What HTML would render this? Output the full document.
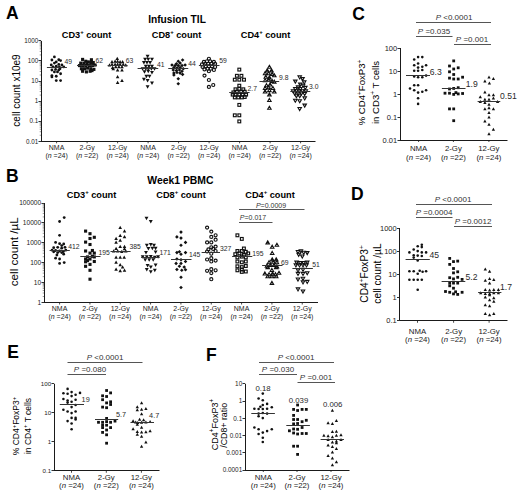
<!DOCTYPE html>
<html><head><meta charset="utf-8"><style>
html,body{margin:0;padding:0;background:#fff;width:520px;height:496px;overflow:hidden}
svg{display:block}
text{font-family:"Liberation Sans", sans-serif}
</style></head><body>
<svg width="520" height="496" viewBox="0 0 520 496">
<rect width="520" height="496" fill="#fff"/>
<text x="6.00" y="18.60" font-size="17.5" text-anchor="start" fill="#000" font-weight="bold">A</text>
<text x="177.00" y="23.00" font-size="10.2" text-anchor="middle" fill="#000" font-weight="bold">Infusion TIL</text>
<text x="86.50" y="37.50" font-size="9.2" text-anchor="middle" fill="#000" font-weight="bold">CD3<tspan font-size="6" dy="-3.5">+</tspan><tspan dy="3.5">​</tspan> count</text>
<text x="176.50" y="37.50" font-size="9.2" text-anchor="middle" fill="#000" font-weight="bold">CD8<tspan font-size="6" dy="-3.5">+</tspan><tspan dy="3.5">​</tspan> count</text>
<text x="265.50" y="37.50" font-size="9.2" text-anchor="middle" fill="#000" font-weight="bold">CD4<tspan font-size="6" dy="-3.5">+</tspan><tspan dy="3.5">​</tspan> count</text>
<text x="17.50" y="90.50" font-size="10" text-anchor="middle" fill="#000" transform="rotate(-90 17.50 90.50)" dominant-baseline="middle">cell count x10e9</text>
<line x1="41.50" y1="40.90" x2="41.50" y2="141.30" stroke="#1a1a1a" stroke-width="1"/>
<line x1="41.00" y1="141.50" x2="315.50" y2="141.50" stroke="#1a1a1a" stroke-width="1"/>
<line x1="38.50" y1="40.50" x2="41.00" y2="40.50" stroke="#1a1a1a" stroke-width="0.9"/>
<text x="38.20" y="43.17" font-size="6.3" text-anchor="end" fill="#222">1000</text>
<line x1="39.70" y1="54.94" x2="41.00" y2="54.94" stroke="#555" stroke-width="0.6"/>
<line x1="39.70" y1="51.40" x2="41.00" y2="51.40" stroke="#555" stroke-width="0.6"/>
<line x1="39.70" y1="48.89" x2="41.00" y2="48.89" stroke="#555" stroke-width="0.6"/>
<line x1="39.70" y1="46.94" x2="41.00" y2="46.94" stroke="#555" stroke-width="0.6"/>
<line x1="39.70" y1="45.35" x2="41.00" y2="45.35" stroke="#555" stroke-width="0.6"/>
<line x1="39.70" y1="44.01" x2="41.00" y2="44.01" stroke="#555" stroke-width="0.6"/>
<line x1="39.70" y1="42.85" x2="41.00" y2="42.85" stroke="#555" stroke-width="0.6"/>
<line x1="39.70" y1="41.82" x2="41.00" y2="41.82" stroke="#555" stroke-width="0.6"/>
<line x1="38.50" y1="60.50" x2="41.00" y2="60.50" stroke="#1a1a1a" stroke-width="0.9"/>
<text x="38.20" y="63.25" font-size="6.3" text-anchor="end" fill="#222">100</text>
<line x1="39.70" y1="75.02" x2="41.00" y2="75.02" stroke="#555" stroke-width="0.6"/>
<line x1="39.70" y1="71.48" x2="41.00" y2="71.48" stroke="#555" stroke-width="0.6"/>
<line x1="39.70" y1="68.97" x2="41.00" y2="68.97" stroke="#555" stroke-width="0.6"/>
<line x1="39.70" y1="67.02" x2="41.00" y2="67.02" stroke="#555" stroke-width="0.6"/>
<line x1="39.70" y1="65.43" x2="41.00" y2="65.43" stroke="#555" stroke-width="0.6"/>
<line x1="39.70" y1="64.09" x2="41.00" y2="64.09" stroke="#555" stroke-width="0.6"/>
<line x1="39.70" y1="62.93" x2="41.00" y2="62.93" stroke="#555" stroke-width="0.6"/>
<line x1="39.70" y1="61.90" x2="41.00" y2="61.90" stroke="#555" stroke-width="0.6"/>
<line x1="38.50" y1="81.50" x2="41.00" y2="81.50" stroke="#1a1a1a" stroke-width="0.9"/>
<text x="38.20" y="83.33" font-size="6.3" text-anchor="end" fill="#222">10</text>
<line x1="39.70" y1="95.10" x2="41.00" y2="95.10" stroke="#555" stroke-width="0.6"/>
<line x1="39.70" y1="91.56" x2="41.00" y2="91.56" stroke="#555" stroke-width="0.6"/>
<line x1="39.70" y1="89.05" x2="41.00" y2="89.05" stroke="#555" stroke-width="0.6"/>
<line x1="39.70" y1="87.10" x2="41.00" y2="87.10" stroke="#555" stroke-width="0.6"/>
<line x1="39.70" y1="85.51" x2="41.00" y2="85.51" stroke="#555" stroke-width="0.6"/>
<line x1="39.70" y1="84.17" x2="41.00" y2="84.17" stroke="#555" stroke-width="0.6"/>
<line x1="39.70" y1="83.01" x2="41.00" y2="83.01" stroke="#555" stroke-width="0.6"/>
<line x1="39.70" y1="81.98" x2="41.00" y2="81.98" stroke="#555" stroke-width="0.6"/>
<line x1="38.50" y1="101.50" x2="41.00" y2="101.50" stroke="#1a1a1a" stroke-width="0.9"/>
<text x="38.20" y="103.41" font-size="6.3" text-anchor="end" fill="#222">1</text>
<line x1="39.70" y1="115.18" x2="41.00" y2="115.18" stroke="#555" stroke-width="0.6"/>
<line x1="39.70" y1="111.64" x2="41.00" y2="111.64" stroke="#555" stroke-width="0.6"/>
<line x1="39.70" y1="109.13" x2="41.00" y2="109.13" stroke="#555" stroke-width="0.6"/>
<line x1="39.70" y1="107.18" x2="41.00" y2="107.18" stroke="#555" stroke-width="0.6"/>
<line x1="39.70" y1="105.59" x2="41.00" y2="105.59" stroke="#555" stroke-width="0.6"/>
<line x1="39.70" y1="104.25" x2="41.00" y2="104.25" stroke="#555" stroke-width="0.6"/>
<line x1="39.70" y1="103.09" x2="41.00" y2="103.09" stroke="#555" stroke-width="0.6"/>
<line x1="39.70" y1="102.06" x2="41.00" y2="102.06" stroke="#555" stroke-width="0.6"/>
<line x1="38.50" y1="121.50" x2="41.00" y2="121.50" stroke="#1a1a1a" stroke-width="0.9"/>
<text x="38.20" y="123.49" font-size="6.3" text-anchor="end" fill="#222">0.1</text>
<line x1="39.70" y1="135.26" x2="41.00" y2="135.26" stroke="#555" stroke-width="0.6"/>
<line x1="39.70" y1="131.72" x2="41.00" y2="131.72" stroke="#555" stroke-width="0.6"/>
<line x1="39.70" y1="129.21" x2="41.00" y2="129.21" stroke="#555" stroke-width="0.6"/>
<line x1="39.70" y1="127.26" x2="41.00" y2="127.26" stroke="#555" stroke-width="0.6"/>
<line x1="39.70" y1="125.67" x2="41.00" y2="125.67" stroke="#555" stroke-width="0.6"/>
<line x1="39.70" y1="124.33" x2="41.00" y2="124.33" stroke="#555" stroke-width="0.6"/>
<line x1="39.70" y1="123.17" x2="41.00" y2="123.17" stroke="#555" stroke-width="0.6"/>
<line x1="39.70" y1="122.14" x2="41.00" y2="122.14" stroke="#555" stroke-width="0.6"/>
<line x1="38.50" y1="141.50" x2="41.00" y2="141.50" stroke="#1a1a1a" stroke-width="0.9"/>
<text x="38.20" y="143.57" font-size="6.3" text-anchor="end" fill="#222">0.01</text>
<line x1="56.60" y1="141.30" x2="56.60" y2="143.30" stroke="#1a1a1a" stroke-width="0.8"/>
<line x1="87.10" y1="141.30" x2="87.10" y2="143.30" stroke="#1a1a1a" stroke-width="0.8"/>
<line x1="117.60" y1="141.30" x2="117.60" y2="143.30" stroke="#1a1a1a" stroke-width="0.8"/>
<line x1="148.10" y1="141.30" x2="148.10" y2="143.30" stroke="#1a1a1a" stroke-width="0.8"/>
<line x1="178.60" y1="141.30" x2="178.60" y2="143.30" stroke="#1a1a1a" stroke-width="0.8"/>
<line x1="209.10" y1="141.30" x2="209.10" y2="143.30" stroke="#1a1a1a" stroke-width="0.8"/>
<line x1="239.60" y1="141.30" x2="239.60" y2="143.30" stroke="#1a1a1a" stroke-width="0.8"/>
<line x1="270.10" y1="141.30" x2="270.10" y2="143.30" stroke="#1a1a1a" stroke-width="0.8"/>
<line x1="300.60" y1="141.30" x2="300.60" y2="143.30" stroke="#1a1a1a" stroke-width="0.8"/>
<text x="56.60" y="150.20" font-size="7" text-anchor="middle" fill="#222">NMA</text>
<text x="56.60" y="157.70" font-size="7" text-anchor="middle" fill="#222">(<tspan font-style="italic">n</tspan> =24)</text>
<text x="87.10" y="150.20" font-size="7" text-anchor="middle" fill="#222">2-Gy</text>
<text x="87.10" y="157.70" font-size="7" text-anchor="middle" fill="#222">(<tspan font-style="italic">n</tspan> =22)</text>
<text x="117.60" y="150.20" font-size="7" text-anchor="middle" fill="#222">12-Gy</text>
<text x="117.60" y="157.70" font-size="7" text-anchor="middle" fill="#222">(<tspan font-style="italic">n</tspan> =24)</text>
<text x="148.10" y="150.20" font-size="7" text-anchor="middle" fill="#222">NMA</text>
<text x="148.10" y="157.70" font-size="7" text-anchor="middle" fill="#222">(<tspan font-style="italic">n</tspan> =24)</text>
<text x="178.60" y="150.20" font-size="7" text-anchor="middle" fill="#222">2-Gy</text>
<text x="178.60" y="157.70" font-size="7" text-anchor="middle" fill="#222">(<tspan font-style="italic">n</tspan> =22)</text>
<text x="209.10" y="150.20" font-size="7" text-anchor="middle" fill="#222">12-Gy</text>
<text x="209.10" y="157.70" font-size="7" text-anchor="middle" fill="#222">(<tspan font-style="italic">n</tspan> =24)</text>
<text x="239.60" y="150.20" font-size="7" text-anchor="middle" fill="#222">NMA</text>
<text x="239.60" y="157.70" font-size="7" text-anchor="middle" fill="#222">(<tspan font-style="italic">n</tspan> =24)</text>
<text x="270.10" y="150.20" font-size="7" text-anchor="middle" fill="#222">2-Gy</text>
<text x="270.10" y="157.70" font-size="7" text-anchor="middle" fill="#222">(<tspan font-style="italic">n</tspan> =22)</text>
<text x="300.60" y="150.20" font-size="7" text-anchor="middle" fill="#222">12-Gy</text>
<text x="300.60" y="157.70" font-size="7" text-anchor="middle" fill="#222">(<tspan font-style="italic">n</tspan> =24)</text>
<text x="6.00" y="182.10" font-size="17.5" text-anchor="start" fill="#000" font-weight="bold">B</text>
<text x="180.40" y="184.40" font-size="10.4" text-anchor="middle" fill="#000" font-weight="bold">Week1 PBMC</text>
<text x="91.50" y="197.50" font-size="9.2" text-anchor="middle" fill="#000" font-weight="bold">CD3<tspan font-size="6" dy="-3.5">+</tspan><tspan dy="3.5">​</tspan> count</text>
<text x="181.00" y="197.50" font-size="9.2" text-anchor="middle" fill="#000" font-weight="bold">CD8<tspan font-size="6" dy="-3.5">+</tspan><tspan dy="3.5">​</tspan> count</text>
<text x="270.00" y="197.50" font-size="9.2" text-anchor="middle" fill="#000" font-weight="bold">CD4<tspan font-size="6" dy="-3.5">+</tspan><tspan dy="3.5">​</tspan> count</text>
<text x="0" y="0" font-size="10.4" text-anchor="middle" fill="#000" transform="translate(18.20 251.80) rotate(-90) scale(1.12 1)">cell count /µL</text>
<line x1="44.50" y1="203.00" x2="44.50" y2="302.50" stroke="#1a1a1a" stroke-width="1"/>
<line x1="44.00" y1="302.50" x2="318.00" y2="302.50" stroke="#1a1a1a" stroke-width="1"/>
<line x1="41.50" y1="203.50" x2="44.00" y2="203.50" stroke="#1a1a1a" stroke-width="0.9"/>
<text x="41.20" y="205.38" font-size="6.6" text-anchor="end" fill="#222">100000</text>
<line x1="42.70" y1="216.91" x2="44.00" y2="216.91" stroke="#555" stroke-width="0.6"/>
<line x1="42.70" y1="213.41" x2="44.00" y2="213.41" stroke="#555" stroke-width="0.6"/>
<line x1="42.70" y1="210.92" x2="44.00" y2="210.92" stroke="#555" stroke-width="0.6"/>
<line x1="42.70" y1="208.99" x2="44.00" y2="208.99" stroke="#555" stroke-width="0.6"/>
<line x1="42.70" y1="207.41" x2="44.00" y2="207.41" stroke="#555" stroke-width="0.6"/>
<line x1="42.70" y1="206.08" x2="44.00" y2="206.08" stroke="#555" stroke-width="0.6"/>
<line x1="42.70" y1="204.93" x2="44.00" y2="204.93" stroke="#555" stroke-width="0.6"/>
<line x1="42.70" y1="203.91" x2="44.00" y2="203.91" stroke="#555" stroke-width="0.6"/>
<line x1="41.50" y1="222.50" x2="44.00" y2="222.50" stroke="#1a1a1a" stroke-width="0.9"/>
<text x="41.20" y="225.28" font-size="6.6" text-anchor="end" fill="#222">10000</text>
<line x1="42.70" y1="236.81" x2="44.00" y2="236.81" stroke="#555" stroke-width="0.6"/>
<line x1="42.70" y1="233.31" x2="44.00" y2="233.31" stroke="#555" stroke-width="0.6"/>
<line x1="42.70" y1="230.82" x2="44.00" y2="230.82" stroke="#555" stroke-width="0.6"/>
<line x1="42.70" y1="228.89" x2="44.00" y2="228.89" stroke="#555" stroke-width="0.6"/>
<line x1="42.70" y1="227.31" x2="44.00" y2="227.31" stroke="#555" stroke-width="0.6"/>
<line x1="42.70" y1="225.98" x2="44.00" y2="225.98" stroke="#555" stroke-width="0.6"/>
<line x1="42.70" y1="224.83" x2="44.00" y2="224.83" stroke="#555" stroke-width="0.6"/>
<line x1="42.70" y1="223.81" x2="44.00" y2="223.81" stroke="#555" stroke-width="0.6"/>
<line x1="41.50" y1="242.50" x2="44.00" y2="242.50" stroke="#1a1a1a" stroke-width="0.9"/>
<text x="41.20" y="245.18" font-size="6.6" text-anchor="end" fill="#222">1000</text>
<line x1="42.70" y1="256.71" x2="44.00" y2="256.71" stroke="#555" stroke-width="0.6"/>
<line x1="42.70" y1="253.21" x2="44.00" y2="253.21" stroke="#555" stroke-width="0.6"/>
<line x1="42.70" y1="250.72" x2="44.00" y2="250.72" stroke="#555" stroke-width="0.6"/>
<line x1="42.70" y1="248.79" x2="44.00" y2="248.79" stroke="#555" stroke-width="0.6"/>
<line x1="42.70" y1="247.21" x2="44.00" y2="247.21" stroke="#555" stroke-width="0.6"/>
<line x1="42.70" y1="245.88" x2="44.00" y2="245.88" stroke="#555" stroke-width="0.6"/>
<line x1="42.70" y1="244.73" x2="44.00" y2="244.73" stroke="#555" stroke-width="0.6"/>
<line x1="42.70" y1="243.71" x2="44.00" y2="243.71" stroke="#555" stroke-width="0.6"/>
<line x1="41.50" y1="262.50" x2="44.00" y2="262.50" stroke="#1a1a1a" stroke-width="0.9"/>
<text x="41.20" y="265.08" font-size="6.6" text-anchor="end" fill="#222">100</text>
<line x1="42.70" y1="276.61" x2="44.00" y2="276.61" stroke="#555" stroke-width="0.6"/>
<line x1="42.70" y1="273.11" x2="44.00" y2="273.11" stroke="#555" stroke-width="0.6"/>
<line x1="42.70" y1="270.62" x2="44.00" y2="270.62" stroke="#555" stroke-width="0.6"/>
<line x1="42.70" y1="268.69" x2="44.00" y2="268.69" stroke="#555" stroke-width="0.6"/>
<line x1="42.70" y1="267.11" x2="44.00" y2="267.11" stroke="#555" stroke-width="0.6"/>
<line x1="42.70" y1="265.78" x2="44.00" y2="265.78" stroke="#555" stroke-width="0.6"/>
<line x1="42.70" y1="264.63" x2="44.00" y2="264.63" stroke="#555" stroke-width="0.6"/>
<line x1="42.70" y1="263.61" x2="44.00" y2="263.61" stroke="#555" stroke-width="0.6"/>
<line x1="41.50" y1="282.50" x2="44.00" y2="282.50" stroke="#1a1a1a" stroke-width="0.9"/>
<text x="41.20" y="284.98" font-size="6.6" text-anchor="end" fill="#222">10</text>
<line x1="42.70" y1="296.51" x2="44.00" y2="296.51" stroke="#555" stroke-width="0.6"/>
<line x1="42.70" y1="293.01" x2="44.00" y2="293.01" stroke="#555" stroke-width="0.6"/>
<line x1="42.70" y1="290.52" x2="44.00" y2="290.52" stroke="#555" stroke-width="0.6"/>
<line x1="42.70" y1="288.59" x2="44.00" y2="288.59" stroke="#555" stroke-width="0.6"/>
<line x1="42.70" y1="287.01" x2="44.00" y2="287.01" stroke="#555" stroke-width="0.6"/>
<line x1="42.70" y1="285.68" x2="44.00" y2="285.68" stroke="#555" stroke-width="0.6"/>
<line x1="42.70" y1="284.53" x2="44.00" y2="284.53" stroke="#555" stroke-width="0.6"/>
<line x1="42.70" y1="283.51" x2="44.00" y2="283.51" stroke="#555" stroke-width="0.6"/>
<line x1="41.50" y1="302.50" x2="44.00" y2="302.50" stroke="#1a1a1a" stroke-width="0.9"/>
<text x="41.20" y="304.88" font-size="6.6" text-anchor="end" fill="#222">1</text>
<line x1="59.60" y1="302.50" x2="59.60" y2="304.50" stroke="#1a1a1a" stroke-width="0.8"/>
<line x1="89.93" y1="302.50" x2="89.93" y2="304.50" stroke="#1a1a1a" stroke-width="0.8"/>
<line x1="120.26" y1="302.50" x2="120.26" y2="304.50" stroke="#1a1a1a" stroke-width="0.8"/>
<line x1="150.59" y1="302.50" x2="150.59" y2="304.50" stroke="#1a1a1a" stroke-width="0.8"/>
<line x1="180.92" y1="302.50" x2="180.92" y2="304.50" stroke="#1a1a1a" stroke-width="0.8"/>
<line x1="211.25" y1="302.50" x2="211.25" y2="304.50" stroke="#1a1a1a" stroke-width="0.8"/>
<line x1="241.58" y1="302.50" x2="241.58" y2="304.50" stroke="#1a1a1a" stroke-width="0.8"/>
<line x1="271.91" y1="302.50" x2="271.91" y2="304.50" stroke="#1a1a1a" stroke-width="0.8"/>
<line x1="302.24" y1="302.50" x2="302.24" y2="304.50" stroke="#1a1a1a" stroke-width="0.8"/>
<text x="59.60" y="311.30" font-size="7" text-anchor="middle" fill="#222">NMA</text>
<text x="59.60" y="318.80" font-size="7" text-anchor="middle" fill="#222">(<tspan font-style="italic">n</tspan> =24)</text>
<text x="89.93" y="311.30" font-size="7" text-anchor="middle" fill="#222">2-Gy</text>
<text x="89.93" y="318.80" font-size="7" text-anchor="middle" fill="#222">(<tspan font-style="italic">n</tspan> =22)</text>
<text x="120.26" y="311.30" font-size="7" text-anchor="middle" fill="#222">12-Gy</text>
<text x="120.26" y="318.80" font-size="7" text-anchor="middle" fill="#222">(<tspan font-style="italic">n</tspan> =24)</text>
<text x="150.59" y="311.30" font-size="7" text-anchor="middle" fill="#222">NMA</text>
<text x="150.59" y="318.80" font-size="7" text-anchor="middle" fill="#222">(<tspan font-style="italic">n</tspan> =24)</text>
<text x="180.92" y="311.30" font-size="7" text-anchor="middle" fill="#222">2-Gy</text>
<text x="180.92" y="318.80" font-size="7" text-anchor="middle" fill="#222">(<tspan font-style="italic">n</tspan> =22)</text>
<text x="211.25" y="311.30" font-size="7" text-anchor="middle" fill="#222">12-Gy</text>
<text x="211.25" y="318.80" font-size="7" text-anchor="middle" fill="#222">(<tspan font-style="italic">n</tspan> =24)</text>
<text x="241.58" y="311.30" font-size="7" text-anchor="middle" fill="#222">NMA</text>
<text x="241.58" y="318.80" font-size="7" text-anchor="middle" fill="#222">(<tspan font-style="italic">n</tspan> =24)</text>
<text x="271.91" y="311.30" font-size="7" text-anchor="middle" fill="#222">2-Gy</text>
<text x="271.91" y="318.80" font-size="7" text-anchor="middle" fill="#222">(<tspan font-style="italic">n</tspan> =22)</text>
<text x="302.24" y="311.30" font-size="7" text-anchor="middle" fill="#222">12-Gy</text>
<text x="302.24" y="318.80" font-size="7" text-anchor="middle" fill="#222">(<tspan font-style="italic">n</tspan> =24)</text>
<line x1="239.00" y1="209.50" x2="304.50" y2="209.50" stroke="#555" stroke-width="1"/>
<text x="271.00" y="207.50" font-size="7" text-anchor="middle" fill="#333"><tspan font-style="italic">P</tspan>=0.0009</text>
<line x1="239.00" y1="222.50" x2="272.50" y2="222.50" stroke="#555" stroke-width="1"/>
<text x="253.00" y="219.50" font-size="7" text-anchor="middle" fill="#333"><tspan font-style="italic">P</tspan>=0.017</text>
<text x="352.30" y="19.60" font-size="17.5" text-anchor="start" fill="#000" font-weight="bold">C</text>
<text x="365.20" y="92.50" font-size="9.6" text-anchor="middle" fill="#000" transform="rotate(-90 365.20 92.50)">% CD4<tspan font-size="6.5" dy="-3.6">+</tspan><tspan dy="3.6">​</tspan>FoxP3<tspan font-size="6.5" dy="-3.6">+</tspan><tspan dy="3.6">​</tspan></text>
<text x="378.70" y="92.50" font-size="9.6" text-anchor="middle" fill="#000" transform="rotate(-90 378.70 92.50)">in CD3<tspan font-size="6.5" dy="-3.6">+</tspan><tspan dy="3.6">​</tspan> T cells</text>
<line x1="400.50" y1="48.00" x2="400.50" y2="140.00" stroke="#1a1a1a" stroke-width="1"/>
<line x1="400.00" y1="140.50" x2="507.50" y2="140.50" stroke="#1a1a1a" stroke-width="1"/>
<line x1="397.50" y1="48.50" x2="400.00" y2="48.50" stroke="#1a1a1a" stroke-width="0.9"/>
<text x="397.20" y="50.70" font-size="7.5" text-anchor="end" fill="#222">100</text>
<line x1="397.50" y1="71.50" x2="400.00" y2="71.50" stroke="#1a1a1a" stroke-width="0.9"/>
<text x="397.20" y="73.70" font-size="7.5" text-anchor="end" fill="#222">10</text>
<line x1="397.50" y1="94.50" x2="400.00" y2="94.50" stroke="#1a1a1a" stroke-width="0.9"/>
<text x="397.20" y="96.70" font-size="7.5" text-anchor="end" fill="#222">1</text>
<line x1="397.50" y1="117.50" x2="400.00" y2="117.50" stroke="#1a1a1a" stroke-width="0.9"/>
<text x="397.20" y="119.70" font-size="7.5" text-anchor="end" fill="#222">0.1</text>
<line x1="397.50" y1="140.50" x2="400.00" y2="140.50" stroke="#1a1a1a" stroke-width="0.9"/>
<text x="397.20" y="142.70" font-size="7.5" text-anchor="end" fill="#222">0.01</text>
<line x1="418.60" y1="140.00" x2="418.60" y2="142.00" stroke="#1a1a1a" stroke-width="0.8"/>
<line x1="453.40" y1="140.00" x2="453.40" y2="142.00" stroke="#1a1a1a" stroke-width="0.8"/>
<line x1="488.90" y1="140.00" x2="488.90" y2="142.00" stroke="#1a1a1a" stroke-width="0.8"/>
<text x="418.60" y="150.80" font-size="7.8" text-anchor="middle" fill="#222">NMA</text>
<text x="418.60" y="159.60" font-size="7.8" text-anchor="middle" fill="#222">(<tspan font-style="italic">n</tspan> =24)</text>
<text x="453.40" y="150.80" font-size="7.8" text-anchor="middle" fill="#222">2-Gy</text>
<text x="453.40" y="159.60" font-size="7.8" text-anchor="middle" fill="#222">(<tspan font-style="italic">n</tspan> =22)</text>
<text x="488.90" y="150.80" font-size="7.8" text-anchor="middle" fill="#222">12-Gy</text>
<text x="488.90" y="159.60" font-size="7.8" text-anchor="middle" fill="#222">(<tspan font-style="italic">n</tspan> =24)</text>
<line x1="416.00" y1="22.50" x2="491.00" y2="22.50" stroke="#555" stroke-width="1"/>
<text x="454.00" y="20.00" font-size="8" text-anchor="middle" fill="#333"><tspan font-style="italic">P</tspan> &lt;0.0001</text>
<line x1="416.00" y1="36.50" x2="452.50" y2="36.50" stroke="#555" stroke-width="1"/>
<text x="434.00" y="33.50" font-size="8" text-anchor="middle" fill="#333"><tspan font-style="italic">P</tspan> =0.035</text>
<line x1="454.00" y1="44.50" x2="491.00" y2="44.50" stroke="#555" stroke-width="1"/>
<text x="472.00" y="41.50" font-size="8" text-anchor="middle" fill="#333"><tspan font-style="italic">P</tspan> =0.001</text>
<text x="351.00" y="200.00" font-size="17.5" text-anchor="start" fill="#000" font-weight="bold">D</text>
<text x="367.70" y="274.00" font-size="10.2" text-anchor="middle" fill="#000" transform="rotate(-90 367.70 274.00)">CD4<tspan font-size="6.5" dy="-3.8">+</tspan><tspan dy="3.8">​</tspan>FoxP3<tspan font-size="6.5" dy="-3.8">+</tspan><tspan dy="3.8">​</tspan></text>
<text x="381.00" y="273.50" font-size="10.2" text-anchor="middle" fill="#000" transform="rotate(-90 381.00 273.50)">cell count /µL</text>
<line x1="399.50" y1="228.00" x2="399.50" y2="320.75" stroke="#1a1a1a" stroke-width="1"/>
<line x1="399.50" y1="320.50" x2="507.50" y2="320.50" stroke="#1a1a1a" stroke-width="1"/>
<line x1="397.00" y1="228.50" x2="399.50" y2="228.50" stroke="#1a1a1a" stroke-width="0.9"/>
<text x="396.70" y="230.70" font-size="7.5" text-anchor="end" fill="#222">1000</text>
<line x1="397.00" y1="251.50" x2="399.50" y2="251.50" stroke="#1a1a1a" stroke-width="0.9"/>
<text x="396.70" y="253.89" font-size="7.5" text-anchor="end" fill="#222">100</text>
<line x1="397.00" y1="274.50" x2="399.50" y2="274.50" stroke="#1a1a1a" stroke-width="0.9"/>
<text x="396.70" y="277.07" font-size="7.5" text-anchor="end" fill="#222">10</text>
<line x1="397.00" y1="297.50" x2="399.50" y2="297.50" stroke="#1a1a1a" stroke-width="0.9"/>
<text x="396.70" y="300.26" font-size="7.5" text-anchor="end" fill="#222">1</text>
<line x1="397.00" y1="320.50" x2="399.50" y2="320.50" stroke="#1a1a1a" stroke-width="0.9"/>
<text x="396.70" y="323.45" font-size="7.5" text-anchor="end" fill="#222">0.1</text>
<line x1="417.50" y1="320.75" x2="417.50" y2="322.75" stroke="#1a1a1a" stroke-width="0.8"/>
<line x1="453.60" y1="320.75" x2="453.60" y2="322.75" stroke="#1a1a1a" stroke-width="0.8"/>
<line x1="489.10" y1="320.75" x2="489.10" y2="322.75" stroke="#1a1a1a" stroke-width="0.8"/>
<text x="417.50" y="333.60" font-size="7.8" text-anchor="middle" fill="#222">NMA</text>
<text x="417.50" y="341.90" font-size="7.8" text-anchor="middle" fill="#222">(<tspan font-style="italic">n</tspan> =24)</text>
<text x="453.60" y="333.60" font-size="7.8" text-anchor="middle" fill="#222">2-Gy</text>
<text x="453.60" y="341.90" font-size="7.8" text-anchor="middle" fill="#222">(<tspan font-style="italic">n</tspan> =22)</text>
<text x="489.10" y="333.60" font-size="7.8" text-anchor="middle" fill="#222">12-Gy</text>
<text x="489.10" y="341.90" font-size="7.8" text-anchor="middle" fill="#222">(<tspan font-style="italic">n</tspan> =24)</text>
<line x1="416.00" y1="204.50" x2="492.00" y2="204.50" stroke="#555" stroke-width="1"/>
<text x="453.00" y="201.50" font-size="8" text-anchor="middle" fill="#333"><tspan font-style="italic">P</tspan> &lt;0.0001</text>
<line x1="416.00" y1="217.50" x2="452.50" y2="217.50" stroke="#555" stroke-width="1"/>
<text x="434.00" y="215.00" font-size="8" text-anchor="middle" fill="#333"><tspan font-style="italic">P</tspan> =0.0004</text>
<line x1="454.00" y1="226.50" x2="492.00" y2="226.50" stroke="#555" stroke-width="1"/>
<text x="473.00" y="223.50" font-size="8" text-anchor="middle" fill="#333"><tspan font-style="italic">P</tspan> =0.0012</text>
<text x="7.30" y="357.50" font-size="17.5" text-anchor="start" fill="#000" font-weight="bold">E</text>
<text x="19.00" y="426.00" font-size="8.5" text-anchor="middle" fill="#000" transform="rotate(-90 19.00 426.00)">% CD4<tspan font-size="6" dy="-3.5">+</tspan><tspan dy="3.5">​</tspan>FoxP3<tspan font-size="6" dy="-3.5">+</tspan><tspan dy="3.5">​</tspan></text>
<text x="30.50" y="426.00" font-size="8.5" text-anchor="middle" fill="#000" transform="rotate(-90 30.50 426.00)">in CD4<tspan font-size="6" dy="-3.5">+</tspan><tspan dy="3.5">​</tspan> T cells</text>
<line x1="54.50" y1="383.75" x2="54.50" y2="470.75" stroke="#1a1a1a" stroke-width="1"/>
<line x1="54.00" y1="470.50" x2="159.50" y2="470.50" stroke="#1a1a1a" stroke-width="1"/>
<line x1="51.50" y1="383.50" x2="54.00" y2="383.50" stroke="#1a1a1a" stroke-width="0.9"/>
<text x="51.20" y="385.98" font-size="6.2" text-anchor="end" fill="#222">100</text>
<line x1="51.50" y1="412.50" x2="54.00" y2="412.50" stroke="#1a1a1a" stroke-width="0.9"/>
<text x="51.20" y="414.98" font-size="6.2" text-anchor="end" fill="#222">10</text>
<line x1="51.50" y1="441.50" x2="54.00" y2="441.50" stroke="#1a1a1a" stroke-width="0.9"/>
<text x="51.20" y="443.98" font-size="6.2" text-anchor="end" fill="#222">1</text>
<line x1="51.50" y1="470.50" x2="54.00" y2="470.50" stroke="#1a1a1a" stroke-width="0.9"/>
<text x="51.20" y="472.98" font-size="6.2" text-anchor="end" fill="#222">0.1</text>
<line x1="71.50" y1="470.75" x2="71.50" y2="472.75" stroke="#1a1a1a" stroke-width="0.8"/>
<line x1="106.30" y1="470.75" x2="106.30" y2="472.75" stroke="#1a1a1a" stroke-width="0.8"/>
<line x1="141.40" y1="470.75" x2="141.40" y2="472.75" stroke="#1a1a1a" stroke-width="0.8"/>
<text x="71.50" y="480.00" font-size="7.8" text-anchor="middle" fill="#222">NMA</text>
<text x="71.50" y="488.30" font-size="7.8" text-anchor="middle" fill="#222">(<tspan font-style="italic">n</tspan> =24)</text>
<text x="106.30" y="480.00" font-size="7.8" text-anchor="middle" fill="#222">2-Gy</text>
<text x="106.30" y="488.30" font-size="7.8" text-anchor="middle" fill="#222">(<tspan font-style="italic">n</tspan> =22)</text>
<text x="141.40" y="480.00" font-size="7.8" text-anchor="middle" fill="#222">12-Gy</text>
<text x="141.40" y="488.30" font-size="7.8" text-anchor="middle" fill="#222">(<tspan font-style="italic">n</tspan> =24)</text>
<line x1="67.50" y1="362.50" x2="142.50" y2="362.50" stroke="#555" stroke-width="1"/>
<text x="105.00" y="359.50" font-size="8" text-anchor="middle" fill="#333"><tspan font-style="italic">P</tspan> &lt;0.0001</text>
<line x1="67.50" y1="374.50" x2="106.00" y2="374.50" stroke="#555" stroke-width="1"/>
<text x="90.00" y="372.00" font-size="8" text-anchor="middle" fill="#333"><tspan font-style="italic">P</tspan> =0.080</text>
<text x="206.00" y="361.00" font-size="17.5" text-anchor="start" fill="#000" font-weight="bold">F</text>
<text x="218.00" y="424.50" font-size="9" text-anchor="middle" fill="#000" transform="rotate(-90 218.00 424.50)">CD4<tspan font-size="6.3" dy="-3.6">+</tspan><tspan dy="3.6">​</tspan>FoxP3<tspan font-size="6.3" dy="-3.6">+</tspan><tspan dy="3.6">​</tspan></text>
<text x="227.20" y="425.30" font-size="8.8" text-anchor="middle" fill="#000" transform="rotate(-90 227.20 425.30)">/CD8+ ratio</text>
<line x1="245.50" y1="383.75" x2="245.50" y2="470.00" stroke="#1a1a1a" stroke-width="1"/>
<line x1="245.00" y1="470.50" x2="349.50" y2="470.50" stroke="#1a1a1a" stroke-width="1"/>
<line x1="242.50" y1="383.50" x2="245.00" y2="383.50" stroke="#1a1a1a" stroke-width="0.9"/>
<text x="242.20" y="386.05" font-size="6.4" text-anchor="end" fill="#222">10</text>
<line x1="242.50" y1="401.50" x2="245.00" y2="401.50" stroke="#1a1a1a" stroke-width="0.9"/>
<text x="242.20" y="403.30" font-size="6.4" text-anchor="end" fill="#222">1</text>
<line x1="242.50" y1="418.50" x2="245.00" y2="418.50" stroke="#1a1a1a" stroke-width="0.9"/>
<text x="242.20" y="420.55" font-size="6.4" text-anchor="end" fill="#222">0.1</text>
<line x1="242.50" y1="435.50" x2="245.00" y2="435.50" stroke="#1a1a1a" stroke-width="0.9"/>
<text x="242.20" y="437.80" font-size="6.4" text-anchor="end" fill="#222">0.01</text>
<line x1="242.50" y1="452.50" x2="245.00" y2="452.50" stroke="#1a1a1a" stroke-width="0.9"/>
<text x="242.20" y="455.05" font-size="6.4" text-anchor="end" fill="#222">0.001</text>
<line x1="242.50" y1="470.50" x2="245.00" y2="470.50" stroke="#1a1a1a" stroke-width="0.9"/>
<text x="242.20" y="472.30" font-size="6.4" text-anchor="end" fill="#222">0.0001</text>
<line x1="263.30" y1="470.00" x2="263.30" y2="472.00" stroke="#1a1a1a" stroke-width="0.8"/>
<line x1="297.00" y1="470.00" x2="297.00" y2="472.00" stroke="#1a1a1a" stroke-width="0.8"/>
<line x1="331.00" y1="470.00" x2="331.00" y2="472.00" stroke="#1a1a1a" stroke-width="0.8"/>
<text x="263.30" y="479.80" font-size="7.8" text-anchor="middle" fill="#222">NMA</text>
<text x="263.30" y="487.50" font-size="7.8" text-anchor="middle" fill="#222">(<tspan font-style="italic">n</tspan> =24)</text>
<text x="297.00" y="479.80" font-size="7.8" text-anchor="middle" fill="#222">2-Gy</text>
<text x="297.00" y="487.50" font-size="7.8" text-anchor="middle" fill="#222">(<tspan font-style="italic">n</tspan> =22)</text>
<text x="331.00" y="479.80" font-size="7.8" text-anchor="middle" fill="#222">12-Gy</text>
<text x="331.00" y="487.50" font-size="7.8" text-anchor="middle" fill="#222">(<tspan font-style="italic">n</tspan> =24)</text>
<line x1="259.00" y1="362.50" x2="334.00" y2="362.50" stroke="#555" stroke-width="1"/>
<text x="296.00" y="359.50" font-size="8" text-anchor="middle" fill="#333"><tspan font-style="italic">P</tspan> &lt;0.0001</text>
<line x1="259.00" y1="374.50" x2="297.00" y2="374.50" stroke="#555" stroke-width="1"/>
<text x="278.00" y="372.00" font-size="8" text-anchor="middle" fill="#333"><tspan font-style="italic">P</tspan> =0.030</text>
<line x1="297.50" y1="382.50" x2="335.00" y2="382.50" stroke="#555" stroke-width="1"/>
<text x="316.00" y="380.00" font-size="8" text-anchor="middle" fill="#333"><tspan font-style="italic">P</tspan> =0.001</text>
<text x="263.10" y="390.90" font-size="7.8" text-anchor="middle" fill="#2a2a2a">0.18</text>
<text x="298.50" y="402.70" font-size="7.8" text-anchor="middle" fill="#2a2a2a">0.039</text>
<text x="332.70" y="407.10" font-size="7.8" text-anchor="middle" fill="#2a2a2a">0.006</text>
<circle cx="54.40" cy="56.90" r="1.40" fill="#111"/>
<circle cx="51.90" cy="60.00" r="1.40" fill="#111"/>
<circle cx="58.75" cy="59.75" r="1.40" fill="#111"/>
<circle cx="60.60" cy="60.60" r="1.40" fill="#111"/>
<circle cx="56.25" cy="61.90" r="1.40" fill="#111"/>
<circle cx="54.40" cy="63.10" r="1.40" fill="#111"/>
<circle cx="51.25" cy="65.00" r="1.40" fill="#111"/>
<circle cx="58.75" cy="64.40" r="1.40" fill="#111"/>
<circle cx="61.90" cy="65.00" r="1.40" fill="#111"/>
<circle cx="53.10" cy="66.90" r="1.40" fill="#111"/>
<circle cx="56.25" cy="66.25" r="1.40" fill="#111"/>
<circle cx="59.40" cy="66.90" r="1.40" fill="#111"/>
<circle cx="63.75" cy="66.90" r="1.40" fill="#111"/>
<circle cx="51.90" cy="70.00" r="1.40" fill="#111"/>
<circle cx="55.60" cy="69.40" r="1.40" fill="#111"/>
<circle cx="58.75" cy="70.00" r="1.40" fill="#111"/>
<circle cx="60.00" cy="68.75" r="1.40" fill="#111"/>
<circle cx="54.40" cy="71.90" r="1.40" fill="#111"/>
<circle cx="57.50" cy="71.90" r="1.40" fill="#111"/>
<circle cx="60.60" cy="73.75" r="1.40" fill="#111"/>
<circle cx="51.90" cy="75.60" r="1.40" fill="#111"/>
<circle cx="56.25" cy="76.25" r="1.40" fill="#111"/>
<circle cx="51.90" cy="76.90" r="1.40" fill="#111"/>
<circle cx="56.25" cy="80.60" r="1.40" fill="#111"/>
<circle cx="60.60" cy="80.60" r="1.40" fill="#111"/>
<line x1="46.90" y1="67.50" x2="66.90" y2="67.50" stroke="#333" stroke-width="1"/>
<text x="64.60" y="63.75" font-size="6.8" text-anchor="start" fill="#2a2a2a">49</text>
<rect x="81.05" y="57.85" width="3.10" height="3.10" fill="#111"/>
<rect x="89.85" y="58.20" width="3.10" height="3.10" fill="#111"/>
<rect x="84.20" y="59.70" width="3.10" height="3.10" fill="#111"/>
<rect x="86.70" y="60.35" width="3.10" height="3.10" fill="#111"/>
<rect x="79.20" y="61.55" width="3.10" height="3.10" fill="#111"/>
<rect x="82.35" y="61.55" width="3.10" height="3.10" fill="#111"/>
<rect x="85.45" y="62.20" width="3.10" height="3.10" fill="#111"/>
<rect x="89.20" y="60.95" width="3.10" height="3.10" fill="#111"/>
<rect x="91.70" y="60.95" width="3.10" height="3.10" fill="#111"/>
<rect x="77.95" y="64.05" width="3.10" height="3.10" fill="#111"/>
<rect x="81.05" y="64.05" width="3.10" height="3.10" fill="#111"/>
<rect x="84.20" y="64.05" width="3.10" height="3.10" fill="#111"/>
<rect x="87.95" y="64.05" width="3.10" height="3.10" fill="#111"/>
<rect x="91.05" y="64.05" width="3.10" height="3.10" fill="#111"/>
<rect x="93.55" y="63.45" width="3.10" height="3.10" fill="#111"/>
<rect x="79.85" y="67.20" width="3.10" height="3.10" fill="#111"/>
<rect x="82.95" y="67.20" width="3.10" height="3.10" fill="#111"/>
<rect x="86.05" y="66.55" width="3.10" height="3.10" fill="#111"/>
<rect x="89.20" y="67.20" width="3.10" height="3.10" fill="#111"/>
<rect x="92.35" y="67.85" width="3.10" height="3.10" fill="#111"/>
<rect x="81.05" y="69.70" width="3.10" height="3.10" fill="#111"/>
<rect x="84.85" y="70.35" width="3.10" height="3.10" fill="#111"/>
<rect x="88.55" y="69.70" width="3.10" height="3.10" fill="#111"/>
<rect x="90.45" y="69.05" width="3.10" height="3.10" fill="#111"/>
<line x1="77.00" y1="65.50" x2="97.00" y2="65.50" stroke="#333" stroke-width="1"/>
<text x="95.60" y="63.05" font-size="6.8" text-anchor="start" fill="#2a2a2a">62</text>
<polygon points="117.25,56.71 119.04,59.93 115.46,59.93" fill="#111"/>
<polygon points="112.00,60.11 113.79,63.33 110.21,63.33" fill="#111"/>
<polygon points="115.10,59.46 116.89,62.68 113.31,62.68" fill="#111"/>
<polygon points="117.60,59.46 119.39,62.68 115.81,62.68" fill="#111"/>
<polygon points="120.10,60.11 121.89,63.33 118.31,63.33" fill="#111"/>
<polygon points="122.60,60.11 124.39,63.33 120.81,63.33" fill="#111"/>
<polygon points="109.50,63.21 111.29,66.43 107.71,66.43" fill="#111"/>
<polygon points="112.00,62.61 113.79,65.83 110.21,65.83" fill="#111"/>
<polygon points="115.10,62.61 116.89,65.83 113.31,65.83" fill="#111"/>
<polygon points="117.60,62.61 119.39,65.83 115.81,65.83" fill="#111"/>
<polygon points="120.10,62.61 121.89,65.83 118.31,65.83" fill="#111"/>
<polygon points="123.25,62.61 125.04,65.83 121.46,65.83" fill="#111"/>
<polygon points="125.75,63.21 127.54,66.43 123.96,66.43" fill="#111"/>
<polygon points="112.60,65.71 114.39,68.93 110.81,68.93" fill="#111"/>
<polygon points="115.75,65.11 117.54,68.33 113.96,68.33" fill="#111"/>
<polygon points="118.90,65.11 120.69,68.33 117.11,68.33" fill="#111"/>
<polygon points="122.00,65.11 123.79,68.33 120.21,68.33" fill="#111"/>
<polygon points="113.25,66.96 115.04,70.18 111.46,70.18" fill="#111"/>
<polygon points="117.60,68.21 119.39,71.43 115.81,71.43" fill="#111"/>
<polygon points="122.00,68.21 123.79,71.43 120.21,71.43" fill="#111"/>
<polygon points="117.60,75.11 119.39,78.33 115.81,78.33" fill="#111"/>
<polygon points="117.60,80.71 119.39,83.93 115.81,83.93" fill="#111"/>
<polygon points="122.00,78.81 123.79,82.03 120.21,82.03" fill="#111"/>
<line x1="107.60" y1="65.50" x2="127.60" y2="65.50" stroke="#333" stroke-width="1"/>
<text x="125.70" y="63.05" font-size="6.8" text-anchor="start" fill="#2a2a2a">63</text>
<polygon points="147.60,58.21 149.56,54.68 145.64,54.68" fill="#111"/>
<polygon points="145.10,61.36 147.06,57.83 143.14,57.83" fill="#111"/>
<polygon points="148.25,61.36 150.21,57.83 146.29,57.83" fill="#111"/>
<polygon points="152.00,61.36 153.96,57.83 150.04,57.83" fill="#111"/>
<polygon points="143.90,64.46 145.86,60.93 141.94,60.93" fill="#111"/>
<polygon points="147.00,64.46 148.96,60.93 145.04,60.93" fill="#111"/>
<polygon points="150.10,64.46 152.06,60.93 148.14,60.93" fill="#111"/>
<polygon points="145.75,68.21 147.71,64.68 143.79,64.68" fill="#111"/>
<polygon points="148.90,68.21 150.86,64.68 146.94,64.68" fill="#111"/>
<polygon points="152.00,68.21 153.96,64.68 150.04,64.68" fill="#111"/>
<polygon points="142.60,70.71 144.56,67.18 140.64,67.18" fill="#111"/>
<polygon points="145.75,70.71 147.71,67.18 143.79,67.18" fill="#111"/>
<polygon points="148.25,70.71 150.21,67.18 146.29,67.18" fill="#111"/>
<polygon points="151.40,70.71 153.36,67.18 149.44,67.18" fill="#111"/>
<polygon points="154.50,70.71 156.46,67.18 152.54,67.18" fill="#111"/>
<polygon points="144.50,73.86 146.46,70.33 142.54,70.33" fill="#111"/>
<polygon points="148.25,73.21 150.21,69.68 146.29,69.68" fill="#111"/>
<polygon points="152.00,74.46 153.96,70.93 150.04,70.93" fill="#111"/>
<polygon points="146.40,78.21 148.36,74.68 144.44,74.68" fill="#111"/>
<polygon points="149.50,78.21 151.46,74.68 147.54,74.68" fill="#111"/>
<polygon points="143.90,81.36 145.86,77.83 141.94,77.83" fill="#111"/>
<polygon points="147.60,82.56 149.56,79.03 145.64,79.03" fill="#111"/>
<polygon points="152.00,85.06 153.96,81.53 150.04,81.53" fill="#111"/>
<polygon points="147.60,88.86 149.56,85.33 145.64,85.33" fill="#111"/>
<line x1="137.60" y1="68.50" x2="158.25" y2="68.50" stroke="#333" stroke-width="1"/>
<text x="157.00" y="66.85" font-size="6.8" text-anchor="start" fill="#2a2a2a">41</text>
<polygon points="182.60,58.18 184.42,60.00 182.60,61.82 180.78,60.00" fill="#111"/>
<polygon points="178.25,59.43 180.07,61.25 178.25,63.07 176.43,61.25" fill="#111"/>
<polygon points="180.10,61.28 181.92,63.10 180.10,64.92 178.28,63.10" fill="#111"/>
<polygon points="176.40,61.93 178.22,63.75 176.40,65.57 174.58,63.75" fill="#111"/>
<polygon points="172.00,63.18 173.82,65.00 172.00,66.82 170.18,65.00" fill="#111"/>
<polygon points="175.10,63.78 176.92,65.60 175.10,67.42 173.28,65.60" fill="#111"/>
<polygon points="178.25,63.78 180.07,65.60 178.25,67.42 176.43,65.60" fill="#111"/>
<polygon points="182.00,63.78 183.82,65.60 182.00,67.42 180.18,65.60" fill="#111"/>
<polygon points="185.10,63.18 186.92,65.00 185.10,66.82 183.28,65.00" fill="#111"/>
<polygon points="173.90,65.68 175.72,67.50 173.90,69.32 172.08,67.50" fill="#111"/>
<polygon points="177.00,66.28 178.82,68.10 177.00,69.92 175.18,68.10" fill="#111"/>
<polygon points="180.10,65.68 181.92,67.50 180.10,69.32 178.28,67.50" fill="#111"/>
<polygon points="183.25,66.93 185.07,68.75 183.25,70.57 181.43,68.75" fill="#111"/>
<polygon points="173.25,68.18 175.07,70.00 173.25,71.82 171.43,70.00" fill="#111"/>
<polygon points="176.40,68.78 178.22,70.60 176.40,72.42 174.58,70.60" fill="#111"/>
<polygon points="179.50,68.18 181.32,70.00 179.50,71.82 177.68,70.00" fill="#111"/>
<polygon points="182.00,69.43 183.82,71.25 182.00,73.07 180.18,71.25" fill="#111"/>
<polygon points="173.90,71.28 175.72,73.10 173.90,74.92 172.08,73.10" fill="#111"/>
<polygon points="177.00,70.68 178.82,72.50 177.00,74.32 175.18,72.50" fill="#111"/>
<polygon points="180.10,71.28 181.92,73.10 180.10,74.92 178.28,73.10" fill="#111"/>
<polygon points="173.90,73.18 175.72,75.00 173.90,76.82 172.08,75.00" fill="#111"/>
<polygon points="182.60,72.58 184.42,74.40 182.60,76.22 180.78,74.40" fill="#111"/>
<polygon points="178.25,76.93 180.07,78.75 178.25,80.57 176.43,78.75" fill="#111"/>
<polygon points="178.25,81.93 180.07,83.75 178.25,85.57 176.43,83.75" fill="#111"/>
<line x1="168.25" y1="68.50" x2="188.25" y2="68.50" stroke="#333" stroke-width="1"/>
<text x="188.20" y="66.20" font-size="6.8" text-anchor="start" fill="#2a2a2a">44</text>
<circle cx="208.90" cy="58.75" r="1.54" fill="none" stroke="#111" stroke-width="1.15"/>
<circle cx="203.90" cy="61.90" r="1.54" fill="none" stroke="#111" stroke-width="1.15"/>
<circle cx="207.00" cy="61.25" r="1.54" fill="none" stroke="#111" stroke-width="1.15"/>
<circle cx="210.10" cy="61.25" r="1.54" fill="none" stroke="#111" stroke-width="1.15"/>
<circle cx="213.90" cy="61.90" r="1.54" fill="none" stroke="#111" stroke-width="1.15"/>
<circle cx="202.00" cy="64.40" r="1.54" fill="none" stroke="#111" stroke-width="1.15"/>
<circle cx="205.10" cy="63.75" r="1.54" fill="none" stroke="#111" stroke-width="1.15"/>
<circle cx="208.25" cy="63.75" r="1.54" fill="none" stroke="#111" stroke-width="1.15"/>
<circle cx="211.40" cy="63.75" r="1.54" fill="none" stroke="#111" stroke-width="1.15"/>
<circle cx="215.10" cy="63.75" r="1.54" fill="none" stroke="#111" stroke-width="1.15"/>
<circle cx="202.60" cy="66.90" r="1.54" fill="none" stroke="#111" stroke-width="1.15"/>
<circle cx="205.75" cy="66.25" r="1.54" fill="none" stroke="#111" stroke-width="1.15"/>
<circle cx="208.90" cy="66.25" r="1.54" fill="none" stroke="#111" stroke-width="1.15"/>
<circle cx="212.00" cy="66.25" r="1.54" fill="none" stroke="#111" stroke-width="1.15"/>
<circle cx="215.10" cy="66.90" r="1.54" fill="none" stroke="#111" stroke-width="1.15"/>
<circle cx="204.50" cy="69.40" r="1.54" fill="none" stroke="#111" stroke-width="1.15"/>
<circle cx="207.60" cy="68.75" r="1.54" fill="none" stroke="#111" stroke-width="1.15"/>
<circle cx="210.75" cy="68.75" r="1.54" fill="none" stroke="#111" stroke-width="1.15"/>
<circle cx="213.90" cy="70.00" r="1.54" fill="none" stroke="#111" stroke-width="1.15"/>
<circle cx="208.90" cy="71.25" r="1.54" fill="none" stroke="#111" stroke-width="1.15"/>
<circle cx="204.50" cy="75.60" r="1.54" fill="none" stroke="#111" stroke-width="1.15"/>
<circle cx="208.90" cy="80.00" r="1.54" fill="none" stroke="#111" stroke-width="1.15"/>
<circle cx="208.90" cy="86.90" r="1.54" fill="none" stroke="#111" stroke-width="1.15"/>
<circle cx="213.25" cy="85.00" r="1.54" fill="none" stroke="#111" stroke-width="1.15"/>
<line x1="198.90" y1="65.50" x2="219.50" y2="65.50" stroke="#333" stroke-width="1"/>
<text x="219.20" y="63.05" font-size="6.8" text-anchor="start" fill="#2a2a2a">59</text>
<rect x="237.90" y="68.20" width="2.80" height="2.80" fill="none" stroke="#111" stroke-width="1.15"/>
<rect x="235.50" y="74.40" width="2.80" height="2.80" fill="none" stroke="#111" stroke-width="1.15"/>
<rect x="240.00" y="74.40" width="2.80" height="2.80" fill="none" stroke="#111" stroke-width="1.15"/>
<rect x="233.40" y="78.30" width="2.80" height="2.80" fill="none" stroke="#111" stroke-width="1.15"/>
<rect x="237.90" y="78.30" width="2.80" height="2.80" fill="none" stroke="#111" stroke-width="1.15"/>
<rect x="242.60" y="78.30" width="2.80" height="2.80" fill="none" stroke="#111" stroke-width="1.15"/>
<rect x="237.90" y="84.30" width="2.80" height="2.80" fill="none" stroke="#111" stroke-width="1.15"/>
<rect x="234.10" y="87.90" width="2.80" height="2.80" fill="none" stroke="#111" stroke-width="1.15"/>
<rect x="237.90" y="87.50" width="2.80" height="2.80" fill="none" stroke="#111" stroke-width="1.15"/>
<rect x="241.90" y="87.90" width="2.80" height="2.80" fill="none" stroke="#111" stroke-width="1.15"/>
<rect x="232.00" y="91.00" width="2.80" height="2.80" fill="none" stroke="#111" stroke-width="1.15"/>
<rect x="235.50" y="90.30" width="2.80" height="2.80" fill="none" stroke="#111" stroke-width="1.15"/>
<rect x="239.80" y="90.30" width="2.80" height="2.80" fill="none" stroke="#111" stroke-width="1.15"/>
<rect x="243.30" y="90.30" width="2.80" height="2.80" fill="none" stroke="#111" stroke-width="1.15"/>
<rect x="231.30" y="93.20" width="2.80" height="2.80" fill="none" stroke="#111" stroke-width="1.15"/>
<rect x="234.10" y="93.20" width="2.80" height="2.80" fill="none" stroke="#111" stroke-width="1.15"/>
<rect x="237.90" y="93.20" width="2.80" height="2.80" fill="none" stroke="#111" stroke-width="1.15"/>
<rect x="241.20" y="93.20" width="2.80" height="2.80" fill="none" stroke="#111" stroke-width="1.15"/>
<rect x="244.70" y="93.20" width="2.80" height="2.80" fill="none" stroke="#111" stroke-width="1.15"/>
<rect x="233.40" y="96.00" width="2.80" height="2.80" fill="none" stroke="#111" stroke-width="1.15"/>
<rect x="236.90" y="96.00" width="2.80" height="2.80" fill="none" stroke="#111" stroke-width="1.15"/>
<rect x="240.50" y="96.00" width="2.80" height="2.80" fill="none" stroke="#111" stroke-width="1.15"/>
<rect x="243.30" y="95.60" width="2.80" height="2.80" fill="none" stroke="#111" stroke-width="1.15"/>
<rect x="237.90" y="103.50" width="2.80" height="2.80" fill="none" stroke="#111" stroke-width="1.15"/>
<rect x="233.40" y="113.90" width="2.80" height="2.80" fill="none" stroke="#111" stroke-width="1.15"/>
<rect x="237.90" y="113.90" width="2.80" height="2.80" fill="none" stroke="#111" stroke-width="1.15"/>
<rect x="237.90" y="120.00" width="2.80" height="2.80" fill="none" stroke="#111" stroke-width="1.15"/>
<line x1="229.20" y1="92.50" x2="249.60" y2="92.50" stroke="#333" stroke-width="1"/>
<text x="247.50" y="90.65" font-size="6.8" text-anchor="start" fill="#2a2a2a">2.7</text>
<polygon points="269.40,65.26 271.14,68.30 267.66,68.30" fill="none" stroke="#111" stroke-width="1.1"/>
<polygon points="267.20,68.86 268.94,71.90 265.46,71.90" fill="none" stroke="#111" stroke-width="1.1"/>
<polygon points="271.50,68.86 273.24,71.90 269.76,71.90" fill="none" stroke="#111" stroke-width="1.1"/>
<polygon points="265.10,71.66 266.84,74.70 263.36,74.70" fill="none" stroke="#111" stroke-width="1.1"/>
<polygon points="268.70,71.66 270.44,74.70 266.96,74.70" fill="none" stroke="#111" stroke-width="1.1"/>
<polygon points="272.20,72.36 273.94,75.40 270.46,75.40" fill="none" stroke="#111" stroke-width="1.1"/>
<polygon points="274.30,73.76 276.04,76.80 272.56,76.80" fill="none" stroke="#111" stroke-width="1.1"/>
<polygon points="265.80,75.16 267.54,78.20 264.06,78.20" fill="none" stroke="#111" stroke-width="1.1"/>
<polygon points="269.40,75.86 271.14,78.90 267.66,78.90" fill="none" stroke="#111" stroke-width="1.1"/>
<polygon points="265.10,78.76 266.84,81.80 263.36,81.80" fill="none" stroke="#111" stroke-width="1.1"/>
<polygon points="268.70,77.96 270.44,81.00 266.96,81.00" fill="none" stroke="#111" stroke-width="1.1"/>
<polygon points="272.20,79.46 273.94,82.50 270.46,82.50" fill="none" stroke="#111" stroke-width="1.1"/>
<polygon points="274.30,80.16 276.04,83.20 272.56,83.20" fill="none" stroke="#111" stroke-width="1.1"/>
<polygon points="266.50,83.66 268.24,86.70 264.76,86.70" fill="none" stroke="#111" stroke-width="1.1"/>
<polygon points="270.10,82.96 271.84,86.00 268.36,86.00" fill="none" stroke="#111" stroke-width="1.1"/>
<polygon points="265.10,86.46 266.84,89.50 263.36,89.50" fill="none" stroke="#111" stroke-width="1.1"/>
<polygon points="268.70,85.76 270.44,88.80 266.96,88.80" fill="none" stroke="#111" stroke-width="1.1"/>
<polygon points="272.90,86.46 274.64,89.50 271.16,89.50" fill="none" stroke="#111" stroke-width="1.1"/>
<polygon points="265.10,89.96 266.84,93.00 263.36,93.00" fill="none" stroke="#111" stroke-width="1.1"/>
<polygon points="269.40,88.56 271.14,91.60 267.66,91.60" fill="none" stroke="#111" stroke-width="1.1"/>
<polygon points="274.30,89.96 276.04,93.00 272.56,93.00" fill="none" stroke="#111" stroke-width="1.1"/>
<polygon points="269.40,92.86 271.14,95.90 267.66,95.90" fill="none" stroke="#111" stroke-width="1.1"/>
<polygon points="269.40,98.46 271.14,101.50 267.66,101.50" fill="none" stroke="#111" stroke-width="1.1"/>
<polygon points="269.40,106.26 271.14,109.30 267.66,109.30" fill="none" stroke="#111" stroke-width="1.1"/>
<line x1="259.50" y1="81.50" x2="279.20" y2="81.50" stroke="#333" stroke-width="1"/>
<text x="279.00" y="80.05" font-size="6.8" text-anchor="start" fill="#2a2a2a">9.8</text>
<polygon points="299.70,78.94 301.44,75.90 297.96,75.90" fill="none" stroke="#111" stroke-width="1.1"/>
<polygon points="302.50,80.64 304.24,77.60 300.76,77.60" fill="none" stroke="#111" stroke-width="1.1"/>
<polygon points="295.30,83.14 297.04,80.10 293.56,80.10" fill="none" stroke="#111" stroke-width="1.1"/>
<polygon points="304.20,83.94 305.94,80.90 302.46,80.90" fill="none" stroke="#111" stroke-width="1.1"/>
<polygon points="300.30,86.14 302.04,83.10 298.56,83.10" fill="none" stroke="#111" stroke-width="1.1"/>
<polygon points="303.10,87.24 304.84,84.20 301.36,84.20" fill="none" stroke="#111" stroke-width="1.1"/>
<polygon points="298.10,88.94 299.84,85.90 296.36,85.90" fill="none" stroke="#111" stroke-width="1.1"/>
<polygon points="305.30,89.44 307.04,86.40 303.56,86.40" fill="none" stroke="#111" stroke-width="1.1"/>
<polygon points="295.30,90.54 297.04,87.50 293.56,87.50" fill="none" stroke="#111" stroke-width="1.1"/>
<polygon points="300.30,90.54 302.04,87.50 298.56,87.50" fill="none" stroke="#111" stroke-width="1.1"/>
<polygon points="293.10,92.74 294.84,89.70 291.36,89.70" fill="none" stroke="#111" stroke-width="1.1"/>
<polygon points="296.40,92.74 298.14,89.70 294.66,89.70" fill="none" stroke="#111" stroke-width="1.1"/>
<polygon points="299.20,92.74 300.94,89.70 297.46,89.70" fill="none" stroke="#111" stroke-width="1.1"/>
<polygon points="302.50,92.74 304.24,89.70 300.76,89.70" fill="none" stroke="#111" stroke-width="1.1"/>
<polygon points="305.80,92.74 307.54,89.70 304.06,89.70" fill="none" stroke="#111" stroke-width="1.1"/>
<polygon points="294.70,95.04 296.44,92.00 292.96,92.00" fill="none" stroke="#111" stroke-width="1.1"/>
<polygon points="298.10,95.04 299.84,92.00 296.36,92.00" fill="none" stroke="#111" stroke-width="1.1"/>
<polygon points="301.40,95.04 303.14,92.00 299.66,92.00" fill="none" stroke="#111" stroke-width="1.1"/>
<polygon points="304.70,95.54 306.44,92.50 302.96,92.50" fill="none" stroke="#111" stroke-width="1.1"/>
<polygon points="296.40,97.74 298.14,94.70 294.66,94.70" fill="none" stroke="#111" stroke-width="1.1"/>
<polygon points="299.70,97.74 301.44,94.70 297.96,94.70" fill="none" stroke="#111" stroke-width="1.1"/>
<polygon points="295.30,102.24 297.04,99.20 293.56,99.20" fill="none" stroke="#111" stroke-width="1.1"/>
<polygon points="299.70,102.74 301.44,99.70 297.96,99.70" fill="none" stroke="#111" stroke-width="1.1"/>
<polygon points="304.70,99.94 306.44,96.90 302.96,96.90" fill="none" stroke="#111" stroke-width="1.1"/>
<polygon points="304.70,107.14 306.44,104.10 302.96,104.10" fill="none" stroke="#111" stroke-width="1.1"/>
<polygon points="299.70,110.54 301.44,107.50 297.96,107.50" fill="none" stroke="#111" stroke-width="1.1"/>
<line x1="290.30" y1="91.50" x2="310.30" y2="91.50" stroke="#333" stroke-width="1"/>
<text x="309.10" y="89.05" font-size="6.8" text-anchor="start" fill="#2a2a2a">3.0</text>
<circle cx="64.20" cy="217.60" r="1.40" fill="#111"/>
<circle cx="59.60" cy="221.50" r="1.40" fill="#111"/>
<circle cx="59.60" cy="235.30" r="1.40" fill="#111"/>
<circle cx="55.60" cy="242.40" r="1.40" fill="#111"/>
<circle cx="59.60" cy="243.70" r="1.40" fill="#111"/>
<circle cx="63.70" cy="244.00" r="1.40" fill="#111"/>
<circle cx="61.70" cy="245.60" r="1.40" fill="#111"/>
<circle cx="53.70" cy="247.70" r="1.40" fill="#111"/>
<circle cx="57.70" cy="247.30" r="1.40" fill="#111"/>
<circle cx="61.70" cy="248.20" r="1.40" fill="#111"/>
<circle cx="65.00" cy="247.30" r="1.40" fill="#111"/>
<circle cx="52.10" cy="250.20" r="1.40" fill="#111"/>
<circle cx="55.60" cy="250.50" r="1.40" fill="#111"/>
<circle cx="59.60" cy="251.00" r="1.40" fill="#111"/>
<circle cx="63.40" cy="251.50" r="1.40" fill="#111"/>
<circle cx="65.80" cy="250.20" r="1.40" fill="#111"/>
<circle cx="53.70" cy="251.80" r="1.40" fill="#111"/>
<circle cx="57.70" cy="252.60" r="1.40" fill="#111"/>
<circle cx="61.70" cy="252.60" r="1.40" fill="#111"/>
<circle cx="56.90" cy="255.00" r="1.40" fill="#111"/>
<circle cx="63.70" cy="254.20" r="1.40" fill="#111"/>
<circle cx="55.60" cy="258.20" r="1.40" fill="#111"/>
<circle cx="59.60" cy="259.00" r="1.40" fill="#111"/>
<circle cx="59.60" cy="263.40" r="1.40" fill="#111"/>
<circle cx="64.20" cy="262.60" r="1.40" fill="#111"/>
<line x1="49.60" y1="250.50" x2="69.80" y2="250.50" stroke="#333" stroke-width="1"/>
<text x="68.20" y="249.05" font-size="6.8" text-anchor="start" fill="#2a2a2a">412</text>
<rect x="84.05" y="229.55" width="3.10" height="3.10" fill="#111"/>
<rect x="88.45" y="232.15" width="3.10" height="3.10" fill="#111"/>
<rect x="88.45" y="236.95" width="3.10" height="3.10" fill="#111"/>
<rect x="92.75" y="235.75" width="3.10" height="3.10" fill="#111"/>
<rect x="84.05" y="240.55" width="3.10" height="3.10" fill="#111"/>
<rect x="88.45" y="242.95" width="3.10" height="3.10" fill="#111"/>
<rect x="84.05" y="249.45" width="3.10" height="3.10" fill="#111"/>
<rect x="90.85" y="248.95" width="3.10" height="3.10" fill="#111"/>
<rect x="88.45" y="251.55" width="3.10" height="3.10" fill="#111"/>
<rect x="92.75" y="251.55" width="3.10" height="3.10" fill="#111"/>
<rect x="85.95" y="255.35" width="3.10" height="3.10" fill="#111"/>
<rect x="90.85" y="254.75" width="3.10" height="3.10" fill="#111"/>
<rect x="92.75" y="255.35" width="3.10" height="3.10" fill="#111"/>
<rect x="84.05" y="257.45" width="3.10" height="3.10" fill="#111"/>
<rect x="88.45" y="257.45" width="3.10" height="3.10" fill="#111"/>
<rect x="92.75" y="259.95" width="3.10" height="3.10" fill="#111"/>
<rect x="85.95" y="259.05" width="3.10" height="3.10" fill="#111"/>
<rect x="84.05" y="260.25" width="3.10" height="3.10" fill="#111"/>
<rect x="88.45" y="262.85" width="3.10" height="3.10" fill="#111"/>
<rect x="84.05" y="264.75" width="3.10" height="3.10" fill="#111"/>
<rect x="88.45" y="268.75" width="3.10" height="3.10" fill="#111"/>
<rect x="88.45" y="277.65" width="3.10" height="3.10" fill="#111"/>
<line x1="80.30" y1="256.50" x2="100.50" y2="256.50" stroke="#333" stroke-width="1"/>
<text x="98.50" y="255.45" font-size="6.8" text-anchor="start" fill="#2a2a2a">195</text>
<polygon points="120.20,225.81 121.99,229.03 118.41,229.03" fill="#111"/>
<polygon points="124.50,229.31 126.29,232.53 122.71,232.53" fill="#111"/>
<polygon points="120.20,233.81 121.99,237.03 118.41,237.03" fill="#111"/>
<polygon points="124.50,235.11 126.29,238.33 122.71,238.33" fill="#111"/>
<polygon points="116.10,236.71 117.89,239.93 114.31,239.93" fill="#111"/>
<polygon points="120.20,238.41 121.99,241.63 118.41,241.63" fill="#111"/>
<polygon points="116.10,240.61 117.89,243.83 114.31,243.83" fill="#111"/>
<polygon points="120.20,244.81 121.99,248.03 118.41,248.03" fill="#111"/>
<polygon points="124.50,244.81 126.29,248.03 122.71,248.03" fill="#111"/>
<polygon points="116.10,246.71 117.89,249.93 114.31,249.93" fill="#111"/>
<polygon points="124.50,247.11 126.29,250.33 122.71,250.33" fill="#111"/>
<polygon points="113.70,249.21 115.49,252.43 111.91,252.43" fill="#111"/>
<polygon points="117.70,249.21 119.49,252.43 115.91,252.43" fill="#111"/>
<polygon points="121.80,249.71 123.59,252.93 120.01,252.93" fill="#111"/>
<polygon points="125.80,249.21 127.59,252.43 124.01,252.43" fill="#111"/>
<polygon points="116.10,255.61 117.89,258.83 114.31,258.83" fill="#111"/>
<polygon points="120.20,255.61 121.99,258.83 118.41,258.83" fill="#111"/>
<polygon points="124.20,255.61 125.99,258.83 122.41,258.83" fill="#111"/>
<polygon points="116.10,260.51 117.89,263.73 114.31,263.73" fill="#111"/>
<polygon points="120.20,262.91 121.99,266.13 118.41,266.13" fill="#111"/>
<polygon points="122.60,265.31 124.39,268.53 120.81,268.53" fill="#111"/>
<polygon points="116.10,267.41 117.89,270.63 114.31,270.63" fill="#111"/>
<polygon points="120.20,269.01 121.99,272.23 118.41,272.23" fill="#111"/>
<polygon points="124.50,268.51 126.29,271.73 122.71,271.73" fill="#111"/>
<line x1="110.50" y1="251.50" x2="130.60" y2="251.50" stroke="#333" stroke-width="1"/>
<text x="129.40" y="249.05" font-size="6.8" text-anchor="start" fill="#2a2a2a">385</text>
<polygon points="146.50,220.16 148.46,216.63 144.54,216.63" fill="#111"/>
<polygon points="150.80,223.46 152.76,219.93 148.84,219.93" fill="#111"/>
<polygon points="146.80,247.26 148.76,243.73 144.84,243.73" fill="#111"/>
<polygon points="150.80,246.46 152.76,242.93 148.84,242.93" fill="#111"/>
<polygon points="154.00,247.26 155.96,243.73 152.04,243.73" fill="#111"/>
<polygon points="148.40,250.46 150.36,246.93 146.44,246.93" fill="#111"/>
<polygon points="152.40,250.16 154.36,246.63 150.44,246.63" fill="#111"/>
<polygon points="155.60,250.16 157.56,246.63 153.64,246.63" fill="#111"/>
<polygon points="146.00,254.56 147.96,251.03 144.04,251.03" fill="#111"/>
<polygon points="155.60,254.06 157.56,250.53 153.64,250.53" fill="#111"/>
<polygon points="142.70,258.86 144.66,255.33 140.74,255.33" fill="#111"/>
<polygon points="146.80,258.86 148.76,255.33 144.84,255.33" fill="#111"/>
<polygon points="150.80,258.56 152.76,255.03 148.84,255.03" fill="#111"/>
<polygon points="154.80,259.36 156.76,255.83 152.84,255.83" fill="#111"/>
<polygon points="158.10,258.86 160.06,255.33 156.14,255.33" fill="#111"/>
<polygon points="145.20,261.76 147.16,258.23 143.24,258.23" fill="#111"/>
<polygon points="149.20,261.76 151.16,258.23 147.24,258.23" fill="#111"/>
<polygon points="153.20,261.76 155.16,258.23 151.24,258.23" fill="#111"/>
<polygon points="147.60,267.46 149.56,263.93 145.64,263.93" fill="#111"/>
<polygon points="155.60,266.96 157.56,263.43 153.64,263.43" fill="#111"/>
<polygon points="146.80,271.46 148.76,267.93 144.84,267.93" fill="#111"/>
<polygon points="150.80,269.06 152.76,265.53 148.84,265.53" fill="#111"/>
<polygon points="154.80,272.26 156.76,268.73 152.84,268.73" fill="#111"/>
<polygon points="150.80,273.86 152.76,270.33 148.84,270.33" fill="#111"/>
<line x1="141.10" y1="257.50" x2="159.70" y2="257.50" stroke="#333" stroke-width="1"/>
<text x="159.50" y="255.45" font-size="6.8" text-anchor="start" fill="#2a2a2a">171</text>
<polygon points="181.00,230.28 182.82,232.10 181.00,233.92 179.18,232.10" fill="#111"/>
<polygon points="176.90,235.08 178.72,236.90 176.90,238.72 175.08,236.90" fill="#111"/>
<polygon points="181.00,236.28 182.82,238.10 181.00,239.92 179.18,238.10" fill="#111"/>
<polygon points="185.50,240.58 187.32,242.40 185.50,244.22 183.68,242.40" fill="#111"/>
<polygon points="181.00,243.48 182.82,245.30 181.00,247.12 179.18,245.30" fill="#111"/>
<polygon points="176.90,250.78 178.72,252.60 176.90,254.42 175.08,252.60" fill="#111"/>
<polygon points="179.40,249.98 181.22,251.80 179.40,253.62 177.58,251.80" fill="#111"/>
<polygon points="181.00,252.38 182.82,254.20 181.00,256.02 179.18,254.20" fill="#111"/>
<polygon points="185.50,250.78 187.32,252.60 185.50,254.42 183.68,252.60" fill="#111"/>
<polygon points="176.90,257.18 178.72,259.00 176.90,260.82 175.08,259.00" fill="#111"/>
<polygon points="181.00,257.98 182.82,259.80 181.00,261.62 179.18,259.80" fill="#111"/>
<polygon points="185.50,259.68 187.32,261.50 185.50,263.32 183.68,261.50" fill="#111"/>
<polygon points="176.10,261.58 177.92,263.40 176.10,265.22 174.28,263.40" fill="#111"/>
<polygon points="181.00,261.58 182.82,263.40 181.00,265.22 179.18,263.40" fill="#111"/>
<polygon points="179.40,264.48 181.22,266.30 179.40,268.12 177.58,266.30" fill="#111"/>
<polygon points="184.20,265.28 186.02,267.10 184.20,268.92 182.38,267.10" fill="#111"/>
<polygon points="176.90,267.68 178.72,269.50 176.90,271.32 175.08,269.50" fill="#111"/>
<polygon points="181.80,268.48 183.62,270.30 181.80,272.12 179.98,270.30" fill="#111"/>
<polygon points="185.50,267.98 187.32,269.80 185.50,271.62 183.68,269.80" fill="#111"/>
<polygon points="181.00,275.48 182.82,277.30 181.00,279.12 179.18,277.30" fill="#111"/>
<polygon points="181.00,285.68 182.82,287.50 181.00,289.32 179.18,287.50" fill="#111"/>
<line x1="171.00" y1="259.50" x2="191.50" y2="259.50" stroke="#333" stroke-width="1"/>
<text x="189.00" y="257.45" font-size="6.8" text-anchor="start" fill="#2a2a2a">145</text>
<circle cx="207.10" cy="227.60" r="1.54" fill="none" stroke="#111" stroke-width="1.15"/>
<circle cx="211.30" cy="231.60" r="1.54" fill="none" stroke="#111" stroke-width="1.15"/>
<circle cx="215.60" cy="235.30" r="1.54" fill="none" stroke="#111" stroke-width="1.15"/>
<circle cx="211.30" cy="236.90" r="1.54" fill="none" stroke="#111" stroke-width="1.15"/>
<circle cx="215.60" cy="239.70" r="1.54" fill="none" stroke="#111" stroke-width="1.15"/>
<circle cx="207.10" cy="242.40" r="1.54" fill="none" stroke="#111" stroke-width="1.15"/>
<circle cx="211.30" cy="242.40" r="1.54" fill="none" stroke="#111" stroke-width="1.15"/>
<circle cx="211.30" cy="247.30" r="1.54" fill="none" stroke="#111" stroke-width="1.15"/>
<circle cx="215.60" cy="246.60" r="1.54" fill="none" stroke="#111" stroke-width="1.15"/>
<circle cx="208.40" cy="249.40" r="1.54" fill="none" stroke="#111" stroke-width="1.15"/>
<circle cx="207.10" cy="251.50" r="1.54" fill="none" stroke="#111" stroke-width="1.15"/>
<circle cx="213.20" cy="248.90" r="1.54" fill="none" stroke="#111" stroke-width="1.15"/>
<circle cx="215.60" cy="251.00" r="1.54" fill="none" stroke="#111" stroke-width="1.15"/>
<circle cx="211.30" cy="253.70" r="1.54" fill="none" stroke="#111" stroke-width="1.15"/>
<circle cx="207.10" cy="259.50" r="1.54" fill="none" stroke="#111" stroke-width="1.15"/>
<circle cx="211.30" cy="258.20" r="1.54" fill="none" stroke="#111" stroke-width="1.15"/>
<circle cx="211.30" cy="261.50" r="1.54" fill="none" stroke="#111" stroke-width="1.15"/>
<circle cx="215.60" cy="260.60" r="1.54" fill="none" stroke="#111" stroke-width="1.15"/>
<circle cx="207.10" cy="270.80" r="1.54" fill="none" stroke="#111" stroke-width="1.15"/>
<circle cx="211.30" cy="269.20" r="1.54" fill="none" stroke="#111" stroke-width="1.15"/>
<circle cx="215.60" cy="270.30" r="1.54" fill="none" stroke="#111" stroke-width="1.15"/>
<circle cx="211.30" cy="273.10" r="1.54" fill="none" stroke="#111" stroke-width="1.15"/>
<circle cx="211.30" cy="279.20" r="1.54" fill="none" stroke="#111" stroke-width="1.15"/>
<line x1="201.60" y1="252.50" x2="220.00" y2="252.50" stroke="#333" stroke-width="1"/>
<text x="220.00" y="251.45" font-size="6.8" text-anchor="start" fill="#2a2a2a">327</text>
<rect x="236.00" y="233.90" width="2.80" height="2.80" fill="none" stroke="#111" stroke-width="1.15"/>
<rect x="240.40" y="237.50" width="2.80" height="2.80" fill="none" stroke="#111" stroke-width="1.15"/>
<rect x="242.50" y="247.10" width="2.80" height="2.80" fill="none" stroke="#111" stroke-width="1.15"/>
<rect x="236.00" y="249.60" width="2.80" height="2.80" fill="none" stroke="#111" stroke-width="1.15"/>
<rect x="240.40" y="249.60" width="2.80" height="2.80" fill="none" stroke="#111" stroke-width="1.15"/>
<rect x="244.40" y="250.40" width="2.80" height="2.80" fill="none" stroke="#111" stroke-width="1.15"/>
<rect x="233.90" y="252.80" width="2.80" height="2.80" fill="none" stroke="#111" stroke-width="1.15"/>
<rect x="238.00" y="252.00" width="2.80" height="2.80" fill="none" stroke="#111" stroke-width="1.15"/>
<rect x="242.50" y="253.60" width="2.80" height="2.80" fill="none" stroke="#111" stroke-width="1.15"/>
<rect x="246.80" y="252.00" width="2.80" height="2.80" fill="none" stroke="#111" stroke-width="1.15"/>
<rect x="236.00" y="256.00" width="2.80" height="2.80" fill="none" stroke="#111" stroke-width="1.15"/>
<rect x="240.40" y="255.20" width="2.80" height="2.80" fill="none" stroke="#111" stroke-width="1.15"/>
<rect x="244.40" y="256.00" width="2.80" height="2.80" fill="none" stroke="#111" stroke-width="1.15"/>
<rect x="236.00" y="260.10" width="2.80" height="2.80" fill="none" stroke="#111" stroke-width="1.15"/>
<rect x="240.40" y="260.90" width="2.80" height="2.80" fill="none" stroke="#111" stroke-width="1.15"/>
<rect x="244.40" y="260.10" width="2.80" height="2.80" fill="none" stroke="#111" stroke-width="1.15"/>
<rect x="236.00" y="264.90" width="2.80" height="2.80" fill="none" stroke="#111" stroke-width="1.15"/>
<rect x="240.40" y="265.70" width="2.80" height="2.80" fill="none" stroke="#111" stroke-width="1.15"/>
<rect x="244.40" y="264.60" width="2.80" height="2.80" fill="none" stroke="#111" stroke-width="1.15"/>
<rect x="236.00" y="268.90" width="2.80" height="2.80" fill="none" stroke="#111" stroke-width="1.15"/>
<rect x="240.40" y="270.50" width="2.80" height="2.80" fill="none" stroke="#111" stroke-width="1.15"/>
<rect x="244.40" y="270.10" width="2.80" height="2.80" fill="none" stroke="#111" stroke-width="1.15"/>
<rect x="240.40" y="268.10" width="2.80" height="2.80" fill="none" stroke="#111" stroke-width="1.15"/>
<line x1="232.10" y1="256.50" x2="252.30" y2="256.50" stroke="#333" stroke-width="1"/>
<text x="252.30" y="255.85" font-size="6.8" text-anchor="start" fill="#2a2a2a">195</text>
<polygon points="267.70,240.86 269.44,243.90 265.96,243.90" fill="none" stroke="#111" stroke-width="1.1"/>
<polygon points="272.20,245.16 273.94,248.20 270.46,248.20" fill="none" stroke="#111" stroke-width="1.1"/>
<polygon points="276.90,243.26 278.64,246.30 275.16,246.30" fill="none" stroke="#111" stroke-width="1.1"/>
<polygon points="272.20,251.46 273.94,254.50 270.46,254.50" fill="none" stroke="#111" stroke-width="1.1"/>
<polygon points="272.20,257.86 273.94,260.90 270.46,260.90" fill="none" stroke="#111" stroke-width="1.1"/>
<polygon points="276.20,257.86 277.94,260.90 274.46,260.90" fill="none" stroke="#111" stroke-width="1.1"/>
<polygon points="269.10,260.66 270.84,263.70 267.36,263.70" fill="none" stroke="#111" stroke-width="1.1"/>
<polygon points="273.30,260.26 275.04,263.30 271.56,263.30" fill="none" stroke="#111" stroke-width="1.1"/>
<polygon points="276.90,260.66 278.64,263.70 275.16,263.70" fill="none" stroke="#111" stroke-width="1.1"/>
<polygon points="267.00,264.16 268.74,267.20 265.26,267.20" fill="none" stroke="#111" stroke-width="1.1"/>
<polygon points="270.50,263.46 272.24,266.50 268.76,266.50" fill="none" stroke="#111" stroke-width="1.1"/>
<polygon points="274.10,263.46 275.84,266.50 272.36,266.50" fill="none" stroke="#111" stroke-width="1.1"/>
<polygon points="276.90,264.86 278.64,267.90 275.16,267.90" fill="none" stroke="#111" stroke-width="1.1"/>
<polygon points="267.70,265.56 269.44,268.60 265.96,268.60" fill="none" stroke="#111" stroke-width="1.1"/>
<polygon points="276.20,265.56 277.94,268.60 274.46,268.60" fill="none" stroke="#111" stroke-width="1.1"/>
<polygon points="271.90,268.46 273.64,271.50 270.16,271.50" fill="none" stroke="#111" stroke-width="1.1"/>
<polygon points="264.90,271.96 266.64,275.00 263.16,275.00" fill="none" stroke="#111" stroke-width="1.1"/>
<polygon points="269.10,272.66 270.84,275.70 267.36,275.70" fill="none" stroke="#111" stroke-width="1.1"/>
<polygon points="272.60,271.96 274.34,275.00 270.86,275.00" fill="none" stroke="#111" stroke-width="1.1"/>
<polygon points="275.50,272.66 277.24,275.70 273.76,275.70" fill="none" stroke="#111" stroke-width="1.1"/>
<polygon points="279.00,271.26 280.74,274.30 277.26,274.30" fill="none" stroke="#111" stroke-width="1.1"/>
<polygon points="267.70,274.76 269.44,277.80 265.96,277.80" fill="none" stroke="#111" stroke-width="1.1"/>
<polygon points="271.90,274.76 273.64,277.80 270.16,277.80" fill="none" stroke="#111" stroke-width="1.1"/>
<polygon points="276.20,274.76 277.94,277.80 274.46,277.80" fill="none" stroke="#111" stroke-width="1.1"/>
<polygon points="271.90,281.36 273.64,284.40 270.16,284.40" fill="none" stroke="#111" stroke-width="1.1"/>
<line x1="262.10" y1="265.50" x2="282.50" y2="265.50" stroke="#333" stroke-width="1"/>
<text x="281.10" y="264.85" font-size="6.8" text-anchor="start" fill="#2a2a2a">69</text>
<polygon points="298.00,253.54 299.74,250.50 296.26,250.50" fill="none" stroke="#111" stroke-width="1.1"/>
<polygon points="300.90,252.84 302.64,249.80 299.16,249.80" fill="none" stroke="#111" stroke-width="1.1"/>
<polygon points="303.70,254.24 305.44,251.20 301.96,251.20" fill="none" stroke="#111" stroke-width="1.1"/>
<polygon points="307.20,254.64 308.94,251.60 305.46,251.60" fill="none" stroke="#111" stroke-width="1.1"/>
<polygon points="298.70,256.34 300.44,253.30 296.96,253.30" fill="none" stroke="#111" stroke-width="1.1"/>
<polygon points="302.30,258.04 304.04,255.00 300.56,255.00" fill="none" stroke="#111" stroke-width="1.1"/>
<polygon points="296.60,264.14 298.34,261.10 294.86,261.10" fill="none" stroke="#111" stroke-width="1.1"/>
<polygon points="300.20,264.54 301.94,261.50 298.46,261.50" fill="none" stroke="#111" stroke-width="1.1"/>
<polygon points="303.70,264.54 305.44,261.50 301.96,261.50" fill="none" stroke="#111" stroke-width="1.1"/>
<polygon points="307.20,264.14 308.94,261.10 305.46,261.10" fill="none" stroke="#111" stroke-width="1.1"/>
<polygon points="295.90,266.94 297.64,263.90 294.16,263.90" fill="none" stroke="#111" stroke-width="1.1"/>
<polygon points="299.50,266.94 301.24,263.90 297.76,263.90" fill="none" stroke="#111" stroke-width="1.1"/>
<polygon points="303.00,266.94 304.74,263.90 301.26,263.90" fill="none" stroke="#111" stroke-width="1.1"/>
<polygon points="306.50,266.94 308.24,263.90 304.76,263.90" fill="none" stroke="#111" stroke-width="1.1"/>
<polygon points="298.00,271.94 299.74,268.90 296.26,268.90" fill="none" stroke="#111" stroke-width="1.1"/>
<polygon points="303.00,271.24 304.74,268.20 301.26,268.20" fill="none" stroke="#111" stroke-width="1.1"/>
<polygon points="298.00,275.44 299.74,272.40 296.26,272.40" fill="none" stroke="#111" stroke-width="1.1"/>
<polygon points="303.00,275.44 304.74,272.40 301.26,272.40" fill="none" stroke="#111" stroke-width="1.1"/>
<polygon points="307.20,274.74 308.94,271.70 305.46,271.70" fill="none" stroke="#111" stroke-width="1.1"/>
<polygon points="298.00,281.04 299.74,278.00 296.26,278.00" fill="none" stroke="#111" stroke-width="1.1"/>
<polygon points="303.00,280.34 304.74,277.30 301.26,277.30" fill="none" stroke="#111" stroke-width="1.1"/>
<polygon points="303.00,283.94 304.74,280.90 301.26,280.90" fill="none" stroke="#111" stroke-width="1.1"/>
<polygon points="307.20,283.44 308.94,280.40 305.46,280.40" fill="none" stroke="#111" stroke-width="1.1"/>
<polygon points="298.00,290.94 299.74,287.90 296.26,287.90" fill="none" stroke="#111" stroke-width="1.1"/>
<polygon points="303.00,293.04 304.74,290.00 301.26,290.00" fill="none" stroke="#111" stroke-width="1.1"/>
<line x1="292.40" y1="268.50" x2="312.90" y2="268.50" stroke="#333" stroke-width="1"/>
<text x="312.20" y="266.65" font-size="6.8" text-anchor="start" fill="#2a2a2a">51</text>
<circle cx="414.20" cy="59.50" r="1.30" fill="#111"/>
<circle cx="418.10" cy="57.10" r="1.30" fill="#111"/>
<circle cx="422.30" cy="57.10" r="1.30" fill="#111"/>
<circle cx="414.20" cy="65.20" r="1.30" fill="#111"/>
<circle cx="418.10" cy="63.50" r="1.30" fill="#111"/>
<circle cx="422.30" cy="66.80" r="1.30" fill="#111"/>
<circle cx="426.10" cy="65.20" r="1.30" fill="#111"/>
<circle cx="418.10" cy="67.60" r="1.30" fill="#111"/>
<circle cx="414.20" cy="70.80" r="1.30" fill="#111"/>
<circle cx="418.10" cy="70.80" r="1.30" fill="#111"/>
<circle cx="422.30" cy="70.00" r="1.30" fill="#111"/>
<circle cx="414.20" cy="76.50" r="1.30" fill="#111"/>
<circle cx="418.10" cy="77.30" r="1.30" fill="#111"/>
<circle cx="422.30" cy="77.30" r="1.30" fill="#111"/>
<circle cx="426.10" cy="75.60" r="1.30" fill="#111"/>
<circle cx="414.20" cy="85.30" r="1.30" fill="#111"/>
<circle cx="418.10" cy="85.30" r="1.30" fill="#111"/>
<circle cx="410.00" cy="88.50" r="1.30" fill="#111"/>
<circle cx="414.20" cy="90.20" r="1.30" fill="#111"/>
<circle cx="418.10" cy="92.60" r="1.30" fill="#111"/>
<circle cx="422.30" cy="91.80" r="1.30" fill="#111"/>
<circle cx="426.10" cy="90.20" r="1.30" fill="#111"/>
<circle cx="418.10" cy="98.20" r="1.30" fill="#111"/>
<circle cx="418.10" cy="103.90" r="1.30" fill="#111"/>
<line x1="406.00" y1="75.50" x2="430.00" y2="75.50" stroke="#333" stroke-width="1"/>
<text x="429.80" y="74.50" font-size="8.6" text-anchor="start" fill="#2a2a2a">6.3</text>
<rect x="452.30" y="59.50" width="2.80" height="2.80" fill="#111"/>
<rect x="448.10" y="64.60" width="2.80" height="2.80" fill="#111"/>
<rect x="452.30" y="67.60" width="2.80" height="2.80" fill="#111"/>
<rect x="456.80" y="66.40" width="2.80" height="2.80" fill="#111"/>
<rect x="448.10" y="70.40" width="2.80" height="2.80" fill="#111"/>
<rect x="452.30" y="73.10" width="2.80" height="2.80" fill="#111"/>
<rect x="448.10" y="76.70" width="2.80" height="2.80" fill="#111"/>
<rect x="452.30" y="77.60" width="2.80" height="2.80" fill="#111"/>
<rect x="456.80" y="77.60" width="2.80" height="2.80" fill="#111"/>
<rect x="461.20" y="75.80" width="2.80" height="2.80" fill="#111"/>
<rect x="448.10" y="87.60" width="2.80" height="2.80" fill="#111"/>
<rect x="452.30" y="87.00" width="2.80" height="2.80" fill="#111"/>
<rect x="456.80" y="86.30" width="2.80" height="2.80" fill="#111"/>
<rect x="443.60" y="91.80" width="2.80" height="2.80" fill="#111"/>
<rect x="448.10" y="91.80" width="2.80" height="2.80" fill="#111"/>
<rect x="452.30" y="93.00" width="2.80" height="2.80" fill="#111"/>
<rect x="454.50" y="91.20" width="2.80" height="2.80" fill="#111"/>
<rect x="456.80" y="92.50" width="2.80" height="2.80" fill="#111"/>
<rect x="461.20" y="92.10" width="2.80" height="2.80" fill="#111"/>
<rect x="448.10" y="107.50" width="2.80" height="2.80" fill="#111"/>
<rect x="452.30" y="107.50" width="2.80" height="2.80" fill="#111"/>
<rect x="452.30" y="119.30" width="2.80" height="2.80" fill="#111"/>
<line x1="441.90" y1="88.50" x2="465.50" y2="88.50" stroke="#333" stroke-width="1"/>
<text x="465.80" y="87.20" font-size="8.6" text-anchor="start" fill="#2a2a2a">1.9</text>
<polygon points="489.00,75.54 490.66,78.53 487.34,78.53" fill="#111"/>
<polygon points="493.40,77.04 495.06,80.03 491.74,80.03" fill="#111"/>
<polygon points="484.90,79.54 486.56,82.53 483.24,82.53" fill="#111"/>
<polygon points="489.40,81.54 491.06,84.53 487.74,84.53" fill="#111"/>
<polygon points="484.90,90.44 486.56,93.43 483.24,93.43" fill="#111"/>
<polygon points="480.30,95.14 481.96,98.13 478.64,98.13" fill="#111"/>
<polygon points="489.00,93.34 490.66,96.33 487.34,96.33" fill="#111"/>
<polygon points="493.40,93.34 495.06,96.33 491.74,96.33" fill="#111"/>
<polygon points="484.90,97.64 486.56,100.63 483.24,100.63" fill="#111"/>
<polygon points="489.00,97.64 490.66,100.63 487.34,100.63" fill="#111"/>
<polygon points="493.40,96.44 495.06,99.43 491.74,99.43" fill="#111"/>
<polygon points="480.30,100.04 481.96,103.03 478.64,103.03" fill="#111"/>
<polygon points="497.60,100.04 499.26,103.03 495.94,103.03" fill="#111"/>
<polygon points="484.90,100.94 486.56,103.93 483.24,103.93" fill="#111"/>
<polygon points="489.00,102.74 490.66,105.73 487.34,105.73" fill="#111"/>
<polygon points="484.90,107.24 486.56,110.23 483.24,110.23" fill="#111"/>
<polygon points="493.40,107.24 495.06,110.23 491.74,110.23" fill="#111"/>
<polygon points="489.00,106.34 490.66,109.33 487.34,109.33" fill="#111"/>
<polygon points="489.00,110.94 490.66,113.93 487.34,113.93" fill="#111"/>
<polygon points="489.00,115.44 490.66,118.43 487.34,118.43" fill="#111"/>
<polygon points="484.90,119.44 486.56,122.43 483.24,122.43" fill="#111"/>
<polygon points="489.00,122.74 490.66,125.73 487.34,125.73" fill="#111"/>
<polygon points="493.40,127.74 495.06,130.73 491.74,130.73" fill="#111"/>
<polygon points="489.00,132.14 490.66,135.13 487.34,135.13" fill="#111"/>
<line x1="477.60" y1="101.50" x2="500.30" y2="101.50" stroke="#333" stroke-width="1"/>
<text x="500.00" y="99.10" font-size="8.6" text-anchor="start" fill="#2a2a2a">0.51</text>
<circle cx="421.80" cy="244.70" r="1.30" fill="#111"/>
<circle cx="417.70" cy="246.30" r="1.30" fill="#111"/>
<circle cx="421.80" cy="247.10" r="1.30" fill="#111"/>
<circle cx="413.70" cy="249.50" r="1.30" fill="#111"/>
<circle cx="417.70" cy="251.10" r="1.30" fill="#111"/>
<circle cx="409.40" cy="252.40" r="1.30" fill="#111"/>
<circle cx="421.80" cy="252.40" r="1.30" fill="#111"/>
<circle cx="426.10" cy="252.40" r="1.30" fill="#111"/>
<circle cx="413.70" cy="255.20" r="1.30" fill="#111"/>
<circle cx="417.70" cy="255.60" r="1.30" fill="#111"/>
<circle cx="421.80" cy="256.00" r="1.30" fill="#111"/>
<circle cx="413.70" cy="257.60" r="1.30" fill="#111"/>
<circle cx="417.70" cy="260.50" r="1.30" fill="#111"/>
<circle cx="409.40" cy="271.30" r="1.30" fill="#111"/>
<circle cx="413.70" cy="271.30" r="1.30" fill="#111"/>
<circle cx="417.70" cy="273.70" r="1.30" fill="#111"/>
<circle cx="419.70" cy="270.80" r="1.30" fill="#111"/>
<circle cx="422.60" cy="271.80" r="1.30" fill="#111"/>
<circle cx="426.10" cy="271.30" r="1.30" fill="#111"/>
<circle cx="409.40" cy="279.80" r="1.30" fill="#111"/>
<circle cx="413.70" cy="279.80" r="1.30" fill="#111"/>
<circle cx="417.70" cy="279.80" r="1.30" fill="#111"/>
<circle cx="421.80" cy="279.80" r="1.30" fill="#111"/>
<circle cx="417.70" cy="289.80" r="1.30" fill="#111"/>
<line x1="405.60" y1="259.50" x2="429.80" y2="259.50" stroke="#333" stroke-width="1"/>
<text x="429.40" y="258.30" font-size="8.6" text-anchor="start" fill="#2a2a2a">45</text>
<rect x="448.30" y="257.00" width="2.80" height="2.80" fill="#111"/>
<rect x="452.10" y="260.20" width="2.80" height="2.80" fill="#111"/>
<rect x="456.30" y="259.70" width="2.80" height="2.80" fill="#111"/>
<rect x="448.30" y="263.00" width="2.80" height="2.80" fill="#111"/>
<rect x="452.10" y="267.10" width="2.80" height="2.80" fill="#111"/>
<rect x="452.10" y="271.50" width="2.80" height="2.80" fill="#111"/>
<rect x="456.30" y="270.40" width="2.80" height="2.80" fill="#111"/>
<rect x="448.30" y="276.30" width="2.80" height="2.80" fill="#111"/>
<rect x="452.10" y="277.50" width="2.80" height="2.80" fill="#111"/>
<rect x="456.30" y="275.90" width="2.80" height="2.80" fill="#111"/>
<rect x="460.70" y="278.00" width="2.80" height="2.80" fill="#111"/>
<rect x="448.30" y="281.70" width="2.80" height="2.80" fill="#111"/>
<rect x="452.10" y="281.70" width="2.80" height="2.80" fill="#111"/>
<rect x="456.30" y="281.70" width="2.80" height="2.80" fill="#111"/>
<rect x="448.30" y="284.40" width="2.80" height="2.80" fill="#111"/>
<rect x="452.10" y="286.80" width="2.80" height="2.80" fill="#111"/>
<rect x="444.10" y="290.10" width="2.80" height="2.80" fill="#111"/>
<rect x="448.30" y="290.90" width="2.80" height="2.80" fill="#111"/>
<rect x="452.10" y="292.50" width="2.80" height="2.80" fill="#111"/>
<rect x="454.20" y="290.40" width="2.80" height="2.80" fill="#111"/>
<rect x="456.30" y="293.00" width="2.80" height="2.80" fill="#111"/>
<rect x="460.70" y="290.90" width="2.80" height="2.80" fill="#111"/>
<line x1="441.60" y1="281.50" x2="465.30" y2="281.50" stroke="#333" stroke-width="1"/>
<text x="465.50" y="280.40" font-size="8.6" text-anchor="start" fill="#2a2a2a">5.2</text>
<polygon points="485.30,267.44 486.96,270.43 483.64,270.43" fill="#111"/>
<polygon points="489.60,269.74 491.26,272.73 487.94,272.73" fill="#111"/>
<polygon points="485.30,278.84 486.96,281.83 483.64,281.83" fill="#111"/>
<polygon points="489.60,276.94 491.26,279.93 487.94,279.93" fill="#111"/>
<polygon points="493.80,277.94 495.46,280.93 492.14,280.93" fill="#111"/>
<polygon points="489.60,281.44 491.26,284.43 487.94,284.43" fill="#111"/>
<polygon points="485.30,288.04 486.96,291.03 483.64,291.03" fill="#111"/>
<polygon points="489.60,288.44 491.26,291.43 487.94,291.43" fill="#111"/>
<polygon points="493.80,288.04 495.46,291.03 492.14,291.03" fill="#111"/>
<polygon points="498.40,288.04 500.06,291.03 496.74,291.03" fill="#111"/>
<polygon points="480.70,291.34 482.36,294.33 479.04,294.33" fill="#111"/>
<polygon points="485.30,291.94 486.96,294.93 483.64,294.93" fill="#111"/>
<polygon points="489.60,291.94 491.26,294.93 487.94,294.93" fill="#111"/>
<polygon points="493.80,291.34 495.46,294.33 492.14,294.33" fill="#111"/>
<polygon points="498.40,291.34 500.06,294.33 496.74,294.33" fill="#111"/>
<polygon points="485.30,295.44 486.96,298.43 483.64,298.43" fill="#111"/>
<polygon points="489.60,293.24 491.26,296.23 487.94,296.23" fill="#111"/>
<polygon points="489.60,298.14 491.26,301.13 487.94,301.13" fill="#111"/>
<polygon points="493.80,296.24 495.46,299.23 492.14,299.23" fill="#111"/>
<polygon points="493.80,299.84 495.46,302.83 492.14,302.83" fill="#111"/>
<polygon points="485.30,303.34 486.96,306.33 483.64,306.33" fill="#111"/>
<polygon points="489.60,304.14 491.26,307.13 487.94,307.13" fill="#111"/>
<polygon points="485.30,311.94 486.96,314.93 483.64,314.93" fill="#111"/>
<polygon points="489.60,313.34 491.26,316.33 487.94,316.33" fill="#111"/>
<polygon points="493.80,311.94 495.46,314.93 492.14,314.93" fill="#111"/>
<line x1="478.10" y1="292.50" x2="501.40" y2="292.50" stroke="#333" stroke-width="1"/>
<text x="500.10" y="290.20" font-size="8.6" text-anchor="start" fill="#2a2a2a">1.7</text>
<circle cx="67.60" cy="388.90" r="1.30" fill="#111"/>
<circle cx="63.40" cy="393.20" r="1.30" fill="#111"/>
<circle cx="67.60" cy="393.70" r="1.30" fill="#111"/>
<circle cx="71.60" cy="392.10" r="1.30" fill="#111"/>
<circle cx="75.60" cy="394.80" r="1.30" fill="#111"/>
<circle cx="80.00" cy="392.90" r="1.30" fill="#111"/>
<circle cx="71.60" cy="396.10" r="1.30" fill="#111"/>
<circle cx="63.40" cy="399.00" r="1.30" fill="#111"/>
<circle cx="67.60" cy="400.60" r="1.30" fill="#111"/>
<circle cx="71.60" cy="401.80" r="1.30" fill="#111"/>
<circle cx="75.60" cy="399.70" r="1.30" fill="#111"/>
<circle cx="67.60" cy="402.60" r="1.30" fill="#111"/>
<circle cx="63.40" cy="409.80" r="1.30" fill="#111"/>
<circle cx="67.60" cy="411.50" r="1.30" fill="#111"/>
<circle cx="71.60" cy="413.10" r="1.30" fill="#111"/>
<circle cx="75.60" cy="411.50" r="1.30" fill="#111"/>
<circle cx="71.60" cy="407.10" r="1.30" fill="#111"/>
<circle cx="75.60" cy="405.00" r="1.30" fill="#111"/>
<circle cx="71.60" cy="417.90" r="1.30" fill="#111"/>
<circle cx="75.60" cy="417.90" r="1.30" fill="#111"/>
<circle cx="75.60" cy="419.50" r="1.30" fill="#111"/>
<circle cx="67.60" cy="421.10" r="1.30" fill="#111"/>
<circle cx="71.60" cy="423.50" r="1.30" fill="#111"/>
<circle cx="71.60" cy="429.20" r="1.30" fill="#111"/>
<line x1="59.80" y1="404.50" x2="84.00" y2="404.50" stroke="#333" stroke-width="1"/>
<text x="81.60" y="401.63" font-size="7.3" text-anchor="start" fill="#2a2a2a">19</text>
<rect x="105.20" y="389.10" width="2.80" height="2.80" fill="#111"/>
<rect x="109.20" y="391.50" width="2.80" height="2.80" fill="#111"/>
<rect x="101.20" y="394.40" width="2.80" height="2.80" fill="#111"/>
<rect x="105.20" y="395.10" width="2.80" height="2.80" fill="#111"/>
<rect x="101.20" y="398.30" width="2.80" height="2.80" fill="#111"/>
<rect x="105.20" y="401.50" width="2.80" height="2.80" fill="#111"/>
<rect x="109.20" y="400.40" width="2.80" height="2.80" fill="#111"/>
<rect x="109.20" y="403.10" width="2.80" height="2.80" fill="#111"/>
<rect x="101.20" y="405.70" width="2.80" height="2.80" fill="#111"/>
<rect x="105.20" y="406.30" width="2.80" height="2.80" fill="#111"/>
<rect x="105.20" y="417.00" width="2.80" height="2.80" fill="#111"/>
<rect x="97.10" y="420.90" width="2.80" height="2.80" fill="#111"/>
<rect x="101.20" y="420.90" width="2.80" height="2.80" fill="#111"/>
<rect x="105.20" y="420.20" width="2.80" height="2.80" fill="#111"/>
<rect x="109.20" y="420.90" width="2.80" height="2.80" fill="#111"/>
<rect x="113.60" y="419.70" width="2.80" height="2.80" fill="#111"/>
<rect x="101.20" y="423.80" width="2.80" height="2.80" fill="#111"/>
<rect x="105.20" y="423.80" width="2.80" height="2.80" fill="#111"/>
<rect x="101.20" y="426.20" width="2.80" height="2.80" fill="#111"/>
<rect x="109.20" y="426.20" width="2.80" height="2.80" fill="#111"/>
<rect x="105.20" y="428.60" width="2.80" height="2.80" fill="#111"/>
<rect x="101.20" y="431.00" width="2.80" height="2.80" fill="#111"/>
<rect x="105.20" y="433.40" width="2.80" height="2.80" fill="#111"/>
<rect x="105.20" y="441.80" width="2.80" height="2.80" fill="#111"/>
<line x1="95.00" y1="419.50" x2="118.20" y2="419.50" stroke="#333" stroke-width="1"/>
<text x="116.00" y="416.83" font-size="7.3" text-anchor="start" fill="#2a2a2a">5.7</text>
<polygon points="141.60,401.14 143.26,404.13 139.94,404.13" fill="#111"/>
<polygon points="137.30,405.34 138.96,408.33 135.64,408.33" fill="#111"/>
<polygon points="137.30,408.24 138.96,411.23 135.64,411.23" fill="#111"/>
<polygon points="141.60,407.74 143.26,410.73 139.94,410.73" fill="#111"/>
<polygon points="145.90,406.94 147.56,409.93 144.24,409.93" fill="#111"/>
<polygon points="141.60,412.14 143.26,415.13 139.94,415.13" fill="#111"/>
<polygon points="133.10,419.14 134.76,422.13 131.44,422.13" fill="#111"/>
<polygon points="139.60,417.84 141.26,420.83 137.94,420.83" fill="#111"/>
<polygon points="143.60,418.14 145.26,421.13 141.94,421.13" fill="#111"/>
<polygon points="135.70,420.44 137.36,423.43 134.04,423.43" fill="#111"/>
<polygon points="137.70,421.04 139.36,424.03 136.04,424.03" fill="#111"/>
<polygon points="141.60,420.84 143.26,423.83 139.94,423.83" fill="#111"/>
<polygon points="145.90,420.44 147.56,423.43 144.24,423.43" fill="#111"/>
<polygon points="150.10,420.04 151.76,423.03 148.44,423.03" fill="#111"/>
<polygon points="137.30,422.64 138.96,425.63 135.64,425.63" fill="#111"/>
<polygon points="141.60,425.64 143.26,428.63 139.94,428.63" fill="#111"/>
<polygon points="133.10,427.34 134.76,430.33 131.44,430.33" fill="#111"/>
<polygon points="137.30,429.94 138.96,432.93 135.64,432.93" fill="#111"/>
<polygon points="141.60,430.44 143.26,433.43 139.94,433.43" fill="#111"/>
<polygon points="145.90,430.24 147.56,433.23 144.24,433.23" fill="#111"/>
<polygon points="150.10,429.14 151.76,432.13 148.44,432.13" fill="#111"/>
<polygon points="137.30,432.84 138.96,435.83 135.64,435.83" fill="#111"/>
<polygon points="141.60,434.84 143.26,437.83 139.94,437.83" fill="#111"/>
<polygon points="145.90,440.44 147.56,443.43 144.24,443.43" fill="#111"/>
<polygon points="141.60,444.64 143.26,447.63 139.94,447.63" fill="#111"/>
<line x1="130.50" y1="422.50" x2="154.00" y2="422.50" stroke="#333" stroke-width="1"/>
<text x="149.10" y="418.13" font-size="7.3" text-anchor="start" fill="#2a2a2a">4.7</text>
<circle cx="262.80" cy="393.60" r="1.30" fill="#111"/>
<circle cx="258.60" cy="398.50" r="1.30" fill="#111"/>
<circle cx="262.80" cy="400.30" r="1.30" fill="#111"/>
<circle cx="267.10" cy="403.90" r="1.30" fill="#111"/>
<circle cx="262.80" cy="405.00" r="1.30" fill="#111"/>
<circle cx="260.40" cy="406.80" r="1.30" fill="#111"/>
<circle cx="254.40" cy="408.70" r="1.30" fill="#111"/>
<circle cx="258.60" cy="409.00" r="1.30" fill="#111"/>
<circle cx="262.80" cy="409.00" r="1.30" fill="#111"/>
<circle cx="267.10" cy="408.70" r="1.30" fill="#111"/>
<circle cx="271.80" cy="407.20" r="1.30" fill="#111"/>
<circle cx="258.60" cy="413.60" r="1.30" fill="#111"/>
<circle cx="262.80" cy="413.00" r="1.30" fill="#111"/>
<circle cx="267.10" cy="413.60" r="1.30" fill="#111"/>
<circle cx="258.60" cy="416.30" r="1.30" fill="#111"/>
<circle cx="262.80" cy="418.10" r="1.30" fill="#111"/>
<circle cx="254.40" cy="427.50" r="1.30" fill="#111"/>
<circle cx="258.60" cy="429.30" r="1.30" fill="#111"/>
<circle cx="262.80" cy="432.60" r="1.30" fill="#111"/>
<circle cx="267.10" cy="431.10" r="1.30" fill="#111"/>
<circle cx="271.80" cy="429.30" r="1.30" fill="#111"/>
<circle cx="258.60" cy="434.00" r="1.30" fill="#111"/>
<circle cx="262.80" cy="437.70" r="1.30" fill="#111"/>
<circle cx="262.80" cy="442.00" r="1.30" fill="#111"/>
<line x1="251.30" y1="413.50" x2="274.90" y2="413.50" stroke="#333" stroke-width="1"/>
<rect x="296.20" y="403.60" width="2.80" height="2.80" fill="#111"/>
<rect x="292.20" y="408.00" width="2.80" height="2.80" fill="#111"/>
<rect x="296.20" y="409.10" width="2.80" height="2.80" fill="#111"/>
<rect x="300.70" y="408.00" width="2.80" height="2.80" fill="#111"/>
<rect x="304.90" y="408.00" width="2.80" height="2.80" fill="#111"/>
<rect x="292.20" y="414.00" width="2.80" height="2.80" fill="#111"/>
<rect x="292.20" y="418.10" width="2.80" height="2.80" fill="#111"/>
<rect x="296.20" y="418.10" width="2.80" height="2.80" fill="#111"/>
<rect x="300.70" y="420.30" width="2.80" height="2.80" fill="#111"/>
<rect x="304.90" y="418.90" width="2.80" height="2.80" fill="#111"/>
<rect x="292.20" y="422.50" width="2.80" height="2.80" fill="#111"/>
<rect x="296.20" y="422.10" width="2.80" height="2.80" fill="#111"/>
<rect x="288.00" y="429.40" width="2.80" height="2.80" fill="#111"/>
<rect x="292.20" y="427.60" width="2.80" height="2.80" fill="#111"/>
<rect x="296.20" y="427.90" width="2.80" height="2.80" fill="#111"/>
<rect x="300.70" y="426.10" width="2.80" height="2.80" fill="#111"/>
<rect x="292.20" y="431.60" width="2.80" height="2.80" fill="#111"/>
<rect x="296.20" y="432.60" width="2.80" height="2.80" fill="#111"/>
<rect x="300.70" y="432.10" width="2.80" height="2.80" fill="#111"/>
<rect x="304.90" y="432.10" width="2.80" height="2.80" fill="#111"/>
<rect x="292.20" y="444.80" width="2.80" height="2.80" fill="#111"/>
<rect x="296.20" y="444.80" width="2.80" height="2.80" fill="#111"/>
<rect x="296.20" y="453.00" width="2.80" height="2.80" fill="#111"/>
<line x1="286.30" y1="425.50" x2="309.90" y2="425.50" stroke="#333" stroke-width="1"/>
<polygon points="332.40,408.74 334.06,411.73 330.74,411.73" fill="#111"/>
<polygon points="328.10,421.34 329.76,424.33 326.44,424.33" fill="#111"/>
<polygon points="332.40,422.04 334.06,425.03 330.74,425.03" fill="#111"/>
<polygon points="336.40,419.04 338.06,422.03 334.74,422.03" fill="#111"/>
<polygon points="332.40,429.94 334.06,432.93 330.74,432.93" fill="#111"/>
<polygon points="336.40,429.64 338.06,432.63 334.74,432.63" fill="#111"/>
<polygon points="323.90,433.84 325.56,436.83 322.24,436.83" fill="#111"/>
<polygon points="328.10,434.14 329.76,437.13 326.44,437.13" fill="#111"/>
<polygon points="332.40,435.34 334.06,438.33 330.74,438.33" fill="#111"/>
<polygon points="336.40,433.84 338.06,436.83 334.74,436.83" fill="#111"/>
<polygon points="341.00,433.34 342.66,436.33 339.34,436.33" fill="#111"/>
<polygon points="328.10,437.94 329.76,440.93 326.44,440.93" fill="#111"/>
<polygon points="332.40,440.44 334.06,443.43 330.74,443.43" fill="#111"/>
<polygon points="336.40,439.44 338.06,442.43 334.74,442.43" fill="#111"/>
<polygon points="336.40,441.34 338.06,444.33 334.74,444.33" fill="#111"/>
<polygon points="341.00,437.94 342.66,440.93 339.34,440.93" fill="#111"/>
<polygon points="328.10,443.54 329.76,446.53 326.44,446.53" fill="#111"/>
<polygon points="332.40,445.04 334.06,448.03 330.74,448.03" fill="#111"/>
<polygon points="336.40,446.94 338.06,449.93 334.74,449.93" fill="#111"/>
<polygon points="332.40,450.44 334.06,453.43 330.74,453.43" fill="#111"/>
<polygon points="328.10,454.04 329.76,457.03 326.44,457.03" fill="#111"/>
<polygon points="332.40,456.44 334.06,459.43 330.74,459.43" fill="#111"/>
<polygon points="336.40,460.14 338.06,463.13 334.74,463.13" fill="#111"/>
<polygon points="332.40,463.14 334.06,466.13 330.74,466.13" fill="#111"/>
<line x1="320.60" y1="439.50" x2="344.00" y2="439.50" stroke="#333" stroke-width="1"/>
</svg>
</body></html>
